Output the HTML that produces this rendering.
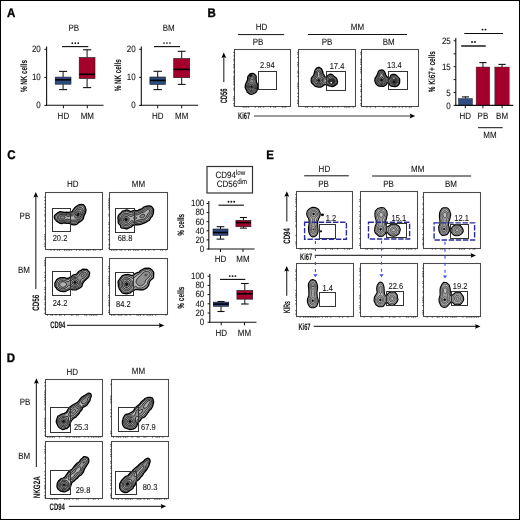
<!DOCTYPE html>
<html><head><meta charset="utf-8"><style>
html,body{margin:0;padding:0;background:#fff;width:520px;height:520px;overflow:hidden}
svg{display:block;will-change:transform}
text{font-family:"Liberation Sans", sans-serif;text-rendering:geometricPrecision}
</style></head><body>
<svg width="520" height="520" viewBox="0 0 520 520">
<rect x="0" y="0" width="520" height="520" fill="#fff"/>
<text transform="translate(7.0,16.7) scale(0.92,1)" font-size="12.5" font-weight="bold" fill="#000" stroke="#000" stroke-width="0.35">A</text>
<text transform="translate(73.80,31.25) scale(1.0,1.15)" font-size="8" text-anchor="middle" fill="#141414" stroke="#141414" stroke-width="0.08">PB</text>
<text transform="translate(168.70,31.25) scale(1.0,1.15)" font-size="8" text-anchor="middle" fill="#141414" stroke="#141414" stroke-width="0.08">BM</text>
<line x1="46.6" y1="46.5" x2="46.6" y2="105.8" stroke="#111" stroke-width="1.1"/>
<line x1="44.4" y1="49.3" x2="46.6" y2="49.3" stroke="#111" stroke-width="1.0"/>
<text transform="translate(40.80,52.15) scale(1.0,1.15)" font-size="8" text-anchor="end" fill="#141414" stroke="#141414" stroke-width="0.08">20</text>
<line x1="44.4" y1="77.4" x2="46.6" y2="77.4" stroke="#111" stroke-width="1.0"/>
<text transform="translate(40.80,80.25) scale(1.0,1.15)" font-size="8" text-anchor="end" fill="#141414" stroke="#141414" stroke-width="0.08">10</text>
<line x1="44.4" y1="105.4" x2="46.6" y2="105.4" stroke="#111" stroke-width="1.0"/>
<text transform="translate(40.80,108.25) scale(1.0,1.15)" font-size="8" text-anchor="end" fill="#141414" stroke="#141414" stroke-width="0.08">0</text>
<line x1="46.1" y1="105.3" x2="103.5" y2="105.3" stroke="#111" stroke-width="1.1"/>
<line x1="63.4" y1="105.3" x2="63.4" y2="108.3" stroke="#111" stroke-width="1.0"/>
<text transform="translate(63.40,119.25) scale(1.0,1.15)" font-size="8" text-anchor="middle" fill="#141414" stroke="#141414" stroke-width="0.08">HD</text>
<line x1="87.3" y1="105.3" x2="87.3" y2="108.3" stroke="#111" stroke-width="1.0"/>
<text transform="translate(87.30,119.25) scale(1.0,1.15)" font-size="8" text-anchor="middle" fill="#141414" stroke="#141414" stroke-width="0.08">MM</text>
<text transform="translate(26.55,76.00) rotate(-90) scale(1.0,1.15)" font-size="8" text-anchor="middle" font-weight="bold" textLength="32" lengthAdjust="spacingAndGlyphs" fill="#141414" stroke="#141414" stroke-width="0.08">% NK cells</text>
<line x1="63.1" y1="71.4" x2="63.1" y2="77.1" stroke="#111" stroke-width="1.0"/>
<line x1="63.1" y1="84.2" x2="63.1" y2="89.6" stroke="#111" stroke-width="1.0"/>
<line x1="59.1" y1="71.4" x2="67.1" y2="71.4" stroke="#111" stroke-width="1.1"/>
<line x1="59.1" y1="89.6" x2="67.1" y2="89.6" stroke="#111" stroke-width="1.1"/>
<rect x="55.20" y="77.1" width="15.80" height="7.10" fill="#2e4b82" stroke="#1a1a1a" stroke-width="0.6"/>
<line x1="55.2" y1="79.8" x2="71.0" y2="79.8" stroke="#000" stroke-width="1.6"/>
<line x1="87.1" y1="49.8" x2="87.1" y2="57.5" stroke="#111" stroke-width="1.0"/>
<line x1="87.1" y1="78.6" x2="87.1" y2="87.6" stroke="#111" stroke-width="1.0"/>
<line x1="83.0" y1="49.8" x2="91.19999999999999" y2="49.8" stroke="#111" stroke-width="1.1"/>
<line x1="83.0" y1="87.6" x2="91.19999999999999" y2="87.6" stroke="#111" stroke-width="1.1"/>
<rect x="79.20" y="57.5" width="15.80" height="21.10" fill="#a4002c" stroke="#1a1a1a" stroke-width="0.6"/>
<line x1="79.19999999999999" y1="74.3" x2="95.0" y2="74.3" stroke="#000" stroke-width="1.6"/>
<line x1="62.0" y1="46.6" x2="88.3" y2="46.6" stroke="#0a0a0a" stroke-width="1.1"/>
<circle cx="72.30" cy="43.20" r="0.85" fill="#111"/>
<circle cx="75.30" cy="43.20" r="0.85" fill="#111"/>
<circle cx="78.30" cy="43.20" r="0.85" fill="#111"/>
<line x1="141.3" y1="46.5" x2="141.3" y2="105.8" stroke="#111" stroke-width="1.1"/>
<line x1="139.10000000000002" y1="49.3" x2="141.3" y2="49.3" stroke="#111" stroke-width="1.0"/>
<text transform="translate(135.70,52.15) scale(1.0,1.15)" font-size="8" text-anchor="end" fill="#141414" stroke="#141414" stroke-width="0.08">20</text>
<line x1="139.10000000000002" y1="77.4" x2="141.3" y2="77.4" stroke="#111" stroke-width="1.0"/>
<text transform="translate(135.70,80.25) scale(1.0,1.15)" font-size="8" text-anchor="end" fill="#141414" stroke="#141414" stroke-width="0.08">10</text>
<line x1="139.10000000000002" y1="105.4" x2="141.3" y2="105.4" stroke="#111" stroke-width="1.0"/>
<text transform="translate(135.70,108.25) scale(1.0,1.15)" font-size="8" text-anchor="end" fill="#141414" stroke="#141414" stroke-width="0.08">0</text>
<line x1="140.8" y1="105.3" x2="198" y2="105.3" stroke="#111" stroke-width="1.1"/>
<line x1="157.7" y1="105.3" x2="157.7" y2="108.3" stroke="#111" stroke-width="1.0"/>
<text transform="translate(157.70,119.25) scale(1.0,1.15)" font-size="8" text-anchor="middle" fill="#141414" stroke="#141414" stroke-width="0.08">HD</text>
<line x1="181.7" y1="105.3" x2="181.7" y2="108.3" stroke="#111" stroke-width="1.0"/>
<text transform="translate(181.70,119.25) scale(1.0,1.15)" font-size="8" text-anchor="middle" fill="#141414" stroke="#141414" stroke-width="0.08">MM</text>
<text transform="translate(121.05,75.30) rotate(-90) scale(1.0,1.15)" font-size="8" text-anchor="middle" font-weight="bold" textLength="32" lengthAdjust="spacingAndGlyphs" fill="#141414" stroke="#141414" stroke-width="0.08">% NK cells</text>
<line x1="157.7" y1="71.3" x2="157.7" y2="77.0" stroke="#111" stroke-width="1.0"/>
<line x1="157.7" y1="84.4" x2="157.7" y2="89.6" stroke="#111" stroke-width="1.0"/>
<line x1="153.45" y1="71.3" x2="161.95" y2="71.3" stroke="#111" stroke-width="1.1"/>
<line x1="153.45" y1="89.6" x2="161.95" y2="89.6" stroke="#111" stroke-width="1.1"/>
<rect x="149.90" y="77.0" width="15.60" height="7.40" fill="#2e4b82" stroke="#1a1a1a" stroke-width="0.6"/>
<line x1="149.89999999999998" y1="80.4" x2="165.5" y2="80.4" stroke="#000" stroke-width="1.6"/>
<line x1="181.7" y1="51.3" x2="181.7" y2="58.5" stroke="#111" stroke-width="1.0"/>
<line x1="181.7" y1="77.7" x2="181.7" y2="84.4" stroke="#111" stroke-width="1.0"/>
<line x1="177.79999999999998" y1="51.3" x2="185.6" y2="51.3" stroke="#111" stroke-width="1.1"/>
<line x1="177.79999999999998" y1="84.4" x2="185.6" y2="84.4" stroke="#111" stroke-width="1.1"/>
<rect x="173.70" y="58.5" width="16.00" height="19.20" fill="#a4002c" stroke="#1a1a1a" stroke-width="0.6"/>
<line x1="173.7" y1="69.4" x2="189.7" y2="69.4" stroke="#000" stroke-width="1.6"/>
<line x1="154.0" y1="46.6" x2="180.0" y2="46.6" stroke="#0a0a0a" stroke-width="1.1"/>
<circle cx="164.00" cy="43.00" r="0.85" fill="#111"/>
<circle cx="167.00" cy="43.00" r="0.85" fill="#111"/>
<circle cx="170.00" cy="43.00" r="0.85" fill="#111"/>
<text transform="translate(207.4,16.8) scale(0.92,1)" font-size="12.5" font-weight="bold" fill="#000" stroke="#000" stroke-width="0.35">B</text>
<text transform="translate(261.50,30.25) scale(1.0,1.15)" font-size="8" text-anchor="middle" fill="#141414" stroke="#141414" stroke-width="0.08">HD</text>
<line x1="238" y1="34.6" x2="284.2" y2="34.6" stroke="#111" stroke-width="1.0"/>
<text transform="translate(258.00,44.95) scale(1.0,1.15)" font-size="8" text-anchor="middle" fill="#141414" stroke="#141414" stroke-width="0.08">PB</text>
<text transform="translate(357.50,30.15) scale(1.0,1.15)" font-size="8" text-anchor="middle" fill="#141414" stroke="#141414" stroke-width="0.08">MM</text>
<line x1="308" y1="34.5" x2="407" y2="34.5" stroke="#111" stroke-width="1.0"/>
<text transform="translate(327.00,45.35) scale(1.0,1.15)" font-size="8" text-anchor="middle" fill="#141414" stroke="#141414" stroke-width="0.08">PB</text>
<text transform="translate(388.70,45.35) scale(1.0,1.15)" font-size="8" text-anchor="middle" fill="#141414" stroke="#141414" stroke-width="0.08">BM</text>
<rect x="234.5" y="49.5" width="56.00" height="57.00" fill="none" stroke="#4a4a4a" stroke-width="1.05"/>
<path d="M233.3,52.5h1.2M233.3,55.9h1.2M233.3,59.3h1.2M233.3,61.0h1.2M233.3,64.4h1.2M233.3,66.1h1.2M233.3,67.8h1.2M233.3,71.2h1.2M233.3,72.9h1.2M233.3,76.3h1.2M233.3,78.0h1.2M233.3,79.7h1.2M233.3,81.4h1.2M233.3,83.1h1.2M233.3,84.8h1.2M233.3,88.2h1.2M233.3,89.9h1.2M233.3,96.7h1.2M233.3,98.4h1.2M233.3,100.1h1.2M233.3,103.5h1.2M233.3,105.2h1.2M243.3,106.5v1.2M245.0,106.5v1.2M246.7,106.5v1.2M248.4,106.5v1.2M255.2,106.5v1.2M258.6,106.5v1.2M260.3,106.5v1.2M263.7,106.5v1.2M270.5,106.5v1.2M273.9,106.5v1.2M275.6,106.5v1.2M282.4,106.5v1.2M284.1,106.5v1.2M285.8,106.5v1.2" stroke="#222" stroke-width="0.8" fill="none"/>
<rect x="298.5" y="49.5" width="57.00" height="57.00" fill="none" stroke="#4a4a4a" stroke-width="1.05"/>
<path d="M297.3,52.5h1.2M297.3,54.2h1.2M297.3,57.6h1.2M297.3,62.7h1.2M297.3,64.4h1.2M297.3,66.1h1.2M297.3,71.2h1.2M297.3,72.9h1.2M297.3,76.3h1.2M297.3,83.1h1.2M297.3,84.8h1.2M297.3,86.5h1.2M297.3,88.2h1.2M297.3,93.3h1.2M297.3,96.7h1.2M297.3,100.1h1.2M297.3,101.8h1.2M297.3,103.5h1.2M305.6,106.5v1.2M307.3,106.5v1.2M312.4,106.5v1.2M319.2,106.5v1.2M322.6,106.5v1.2M324.3,106.5v1.2M326.0,106.5v1.2M327.7,106.5v1.2M329.4,106.5v1.2M332.8,106.5v1.2M337.9,106.5v1.2M344.7,106.5v1.2M346.4,106.5v1.2M348.1,106.5v1.2M349.8,106.5v1.2M353.2,106.5v1.2" stroke="#222" stroke-width="0.8" fill="none"/>
<rect x="361.5" y="49.5" width="57.00" height="57.00" fill="none" stroke="#4a4a4a" stroke-width="1.05"/>
<path d="M360.3,52.5h1.2M360.3,54.2h1.2M360.3,59.3h1.2M360.3,61.0h1.2M360.3,62.7h1.2M360.3,64.4h1.2M360.3,67.8h1.2M360.3,69.5h1.2M360.3,71.2h1.2M360.3,72.9h1.2M360.3,79.7h1.2M360.3,84.8h1.2M360.3,86.5h1.2M360.3,89.9h1.2M360.3,91.6h1.2M360.3,96.7h1.2M360.3,100.1h1.2M360.3,103.5h1.2M360.3,105.2h1.2M366.9,106.5v1.2M370.3,106.5v1.2M375.4,106.5v1.2M383.9,106.5v1.2M389.0,106.5v1.2M392.4,106.5v1.2M394.1,106.5v1.2M395.8,106.5v1.2M399.2,106.5v1.2M402.6,106.5v1.2M406.0,106.5v1.2M409.4,106.5v1.2M411.1,106.5v1.2" stroke="#222" stroke-width="0.8" fill="none"/>
<line x1="223.8" y1="55.5" x2="223.8" y2="82" stroke="#3a3a3a" stroke-width="1.2"/>
<path d="M221.40,58.00 L223.80,52.50 L226.20,58.00 L223.80,57.10 Z" fill="#000"/>
<text transform="translate(226.92,96.00) rotate(-90) scale(1.0,1.25)" font-size="7.5" text-anchor="middle" font-weight="bold" textLength="14.7" lengthAdjust="spacingAndGlyphs" fill="#141414" stroke="#141414" stroke-width="0.08">CD56</text>
<text transform="translate(244.10,118.82) scale(1.0,1.25)" font-size="7.5" text-anchor="middle" font-weight="bold" textLength="12" lengthAdjust="spacingAndGlyphs" fill="#141414" stroke="#141414" stroke-width="0.08">Ki67</text>
<line x1="254" y1="116.0" x2="412.2" y2="116.0" stroke="#3a3a3a" stroke-width="1.2"/>
<path d="M409.70,113.60 L415.20,116.00 L409.70,118.40 L410.60,116.00 Z" fill="#000"/>
<path d="M251.8,94.3 250.1,94.1 247.3,92.3 246.6,90.4 245.4,88.2 245.2,86.8 245.5,84.5 247.6,79.8 247.7,77.5 248.1,76.2 250.1,73.9 250.8,73.6 252.6,73.3 253.9,73.8 255.5,75.2 256.1,76.2 256.2,77.0 256.1,78.8 256.4,82.0 257.4,84.0 257.9,86.5 257.0,90.5 256.3,91.8 255.1,92.8 252.8,94.0Z" fill="#9a9a9a" stroke="#000" stroke-width="1.3" stroke-linejoin="round"/>
<path d="M252.6,92.8 250.6,92.8 248.3,91.5 246.7,88.8 246.2,87.0 246.6,85.0 248.6,80.2 248.7,77.5 249.0,76.5 249.6,75.5 250.3,74.8 251.3,74.4 252.1,74.2 252.8,74.4 253.6,74.8 254.7,75.8 255.2,76.5 255.3,77.5 255.2,81.5 256.5,84.2 256.8,86.2 256.3,89.2 255.3,91.2 254.6,92.0Z" fill="#b8b8b8" stroke="#111" stroke-width="0.75" stroke-linejoin="round"/>
<path d="M252.8,91.6 251.1,91.7 250.1,91.4 249.3,91.0 248.0,89.2 247.4,87.0 247.8,84.8 249.8,81.2 249.6,78.0 249.8,77.0 250.6,75.8 251.8,75.3 252.6,75.4 253.3,75.8 254.3,77.0 254.4,78.5 253.7,81.5 255.4,84.5 255.8,86.2 255.7,88.0 255.1,89.5 254.1,90.8Z" fill="#909090" stroke="#111" stroke-width="0.75" stroke-linejoin="round"/>
<path d="M252.3,79.8 251.8,79.9 251.3,79.6 250.8,78.5 251.0,77.2 251.3,76.8 251.8,76.6 252.6,76.8 253.2,77.8 253.1,78.9ZM252.1,90.5 250.8,90.5 249.6,89.8 248.7,88.5 248.4,87.0 248.6,85.5 249.2,84.2 250.3,83.2 251.6,82.7 252.6,83.0 253.8,84.0 254.5,85.2 254.8,86.5 254.7,88.0 254.1,89.2 253.1,90.1Z" fill="#b0b0b0" stroke="#111" stroke-width="0.75" stroke-linejoin="round"/>
<path d="M252.1,89.3 251.1,89.3 250.3,88.9 249.8,88.2 249.5,87.2 249.5,86.2 249.9,85.2 250.6,84.5 251.3,84.2 252.1,84.3 252.8,84.7 253.3,85.3 253.7,86.2 253.7,87.2 253.4,88.2 252.8,88.9Z" fill="#888888" stroke="#111" stroke-width="0.75" stroke-linejoin="round"/>
<path d="M251.6,88.0 250.8,87.6 250.6,86.8 250.8,85.9 251.6,85.6 252.3,85.9 252.6,86.8 252.3,87.6Z" fill="#111111" stroke="#111" stroke-width="0.75" stroke-linejoin="round"/>
<ellipse cx="250.6" cy="75.6" rx="1.5" ry="1.3" fill="#111"/>
<path d="M320.7,87.2 318.7,87.2 315.2,86.3 312.1,83.3 311.3,82.1 311.2,81.3 311.3,78.3 311.7,77.6 313.7,75.2 315.1,70.1 316.7,68.0 318.2,67.4 319.0,67.4 319.7,67.7 321.0,68.4 321.6,69.1 322.7,71.6 323.1,73.6 324.1,75.1 324.5,76.3 325.0,76.9 325.5,77.1 326.2,77.2 327.0,76.6 328.0,75.3 329.0,74.7 330.5,74.2 331.7,74.4 332.7,75.0 334.1,76.6 335.7,77.6 336.4,78.3 337.0,79.6 337.5,81.6 337.4,82.8 337.0,83.9 333.5,86.4 332.2,86.5 330.5,86.2 328.5,85.6 326.9,84.6 326.0,84.4 324.2,84.9 321.7,86.7Z" fill="#9a9a9a" stroke="#000" stroke-width="1.3" stroke-linejoin="round"/>
<path d="M319.2,86.1 318.2,86.0 316.5,85.6 315.0,84.7 313.0,82.8 312.6,82.1 312.4,80.8 312.3,79.6 312.6,78.6 314.4,76.3 314.9,75.3 315.7,70.8 316.7,69.4 317.7,68.7 318.5,68.5 319.5,68.7 320.3,69.1 321.0,69.8 321.7,71.6 322.0,73.8 322.6,75.3 325.5,79.4 326.0,79.5 327.0,78.7 328.1,76.3 328.6,75.6 329.5,75.1 330.5,74.9 331.2,75.1 332.0,75.6 333.7,77.3 335.4,78.6 336.1,79.6 336.4,81.3 336.0,83.1 335.2,84.1 333.0,85.5 331.2,85.6 329.2,85.0 328.2,84.4 326.2,82.4 325.7,82.2 325.2,82.4 323.7,83.8 321.5,85.6Z" fill="#b8b8b8" stroke="#111" stroke-width="0.75" stroke-linejoin="round"/>
<path d="M319.5,84.9 318.5,85.0 317.5,84.8 315.5,83.8 314.0,82.3 313.6,80.8 313.6,79.8 313.9,78.8 316.1,75.6 316.3,72.6 316.6,71.3 317.5,70.3 318.5,69.9 319.7,70.3 320.5,71.1 320.9,72.3 321.4,75.6 321.9,76.6 323.4,78.3 324.0,80.1 323.8,81.6 322.9,83.1 321.5,84.2ZM332.7,84.4 331.2,84.6 329.7,84.1 328.4,83.1 327.6,81.8 327.6,80.6 328.7,77.1 329.1,76.3 329.7,75.9 330.7,75.9 331.5,76.3 332.9,77.8 334.5,79.1 335.1,80.1 335.3,81.3 335.0,82.7 334.1,83.6Z" fill="#909090" stroke="#111" stroke-width="0.75" stroke-linejoin="round"/>
<path d="M320.0,83.6 318.2,83.8 316.7,83.3 315.5,82.2 314.9,80.8 314.9,79.8 315.3,78.8 317.4,76.1 317.5,75.3 317.3,73.6 317.4,72.6 317.8,71.8 318.5,71.4 319.2,71.6 319.6,72.1 319.9,73.1 319.9,75.8 320.3,76.6 322.2,78.6 322.7,80.1 322.6,81.3 322.0,82.3 321.2,83.1ZM332.0,83.4 331.0,83.4 330.0,83.0 329.3,82.3 328.9,81.6 329.0,80.3 330.2,77.6 330.7,77.6 333.1,79.3 334.0,80.6 334.1,81.6 333.7,82.3 333.0,83.0Z" fill="#b0b0b0" stroke="#111" stroke-width="0.75" stroke-linejoin="round"/>
<path d="M319.2,82.6 318.2,82.6 317.2,82.2 316.5,81.4 316.2,80.6 316.3,79.6 316.8,78.8 317.5,78.2 318.5,77.7 319.5,77.9 320.3,78.3 321.0,79.1 321.4,80.1 321.3,81.1 320.8,81.8 320.1,82.3ZM332.0,81.9 331.2,82.0 330.7,81.6 330.5,80.8 330.9,80.3 331.7,80.3 332.4,80.8 332.4,81.3Z" fill="#888888" stroke="#111" stroke-width="0.75" stroke-linejoin="round"/>
<path d="M319.2,81.4 318.2,81.4 317.6,80.8 317.5,80.1 318.2,79.3 319.2,79.2 320.0,79.8 320.0,80.8Z" fill="#111111" stroke="#111" stroke-width="0.75" stroke-linejoin="round"/>
<ellipse cx="331.6" cy="81.4" rx="3.6" ry="3.0" fill="#2a2a2a"/>
<circle cx="331.2" cy="82.6" r="0.9" fill="#fff"/>
<path d="M395.5,86.5 394.5,86.7 391.2,86.2 390.0,85.3 389.2,83.8 388.0,82.7 387.2,83.0 386.0,84.8 384.0,86.1 383.2,86.3 378.8,86.0 377.8,85.6 376.8,84.8 376.1,84.0 375.0,81.5 374.8,80.5 375.0,78.8 375.3,77.8 376.7,76.0 378.1,72.2 379.0,70.8 379.8,70.3 382.0,70.0 382.8,70.1 383.2,70.4 384.1,71.2 385.2,73.0 385.6,74.8 385.9,75.5 386.8,76.5 387.8,77.2 388.8,78.5 389.2,78.3 389.8,77.7 390.8,75.4 391.8,74.7 393.0,74.3 394.5,74.4 395.8,74.8 396.5,75.4 399.5,78.8 399.7,79.8 399.6,82.5 399.4,83.5 397.8,85.6 397.0,86.1Z" fill="#9a9a9a" stroke="#000" stroke-width="1.3" stroke-linejoin="round"/>
<path d="M382.2,85.5 379.5,85.2 377.8,84.0 376.5,82.2 375.9,80.0 376.2,78.2 377.6,76.0 379.1,72.2 380.0,71.3 381.8,70.9 382.8,71.1 383.8,72.2 384.3,73.2 385.1,75.5 387.1,78.2 387.5,80.0 386.9,81.8 385.5,84.0 384.2,84.9ZM395.8,85.5 393.8,85.7 392.2,85.4 391.5,85.1 390.4,83.8 389.2,81.2 389.2,80.2 390.5,78.0 391.2,76.2 391.8,75.5 392.8,75.0 394.2,75.0 395.5,75.6 398.2,78.8 398.6,79.5 398.8,81.5 398.5,83.0 397.2,84.8Z" fill="#b8b8b8" stroke="#111" stroke-width="0.75" stroke-linejoin="round"/>
<path d="M382.0,84.5 380.2,84.4 378.5,83.4 377.5,82.0 377.0,80.0 377.3,78.5 378.5,76.2 379.6,73.2 380.4,72.2 381.5,71.9 382.5,72.1 383.3,73.0 384.2,75.8 385.9,78.5 386.2,80.0 385.9,81.8 384.9,83.2 383.8,84.0ZM395.0,84.8 393.5,84.8 392.2,84.3 391.2,83.2 390.5,81.8 390.6,80.2 391.8,77.0 392.2,76.2 393.2,75.7 394.2,75.8 395.2,76.5 397.3,79.2 397.8,80.5 397.8,81.8 397.4,83.0 396.2,84.2Z" fill="#909090" stroke="#111" stroke-width="0.75" stroke-linejoin="round"/>
<path d="M382.8,83.3 381.2,83.5 379.8,83.0 378.7,82.0 378.2,80.5 378.3,79.0 379.6,76.5 380.3,74.2 380.8,73.6 381.5,73.2 382.0,73.4 382.6,74.0 383.4,76.2 384.6,78.5 385.0,79.8 385.0,81.0 384.5,82.0 383.8,82.8ZM394.2,83.8 393.2,83.6 392.5,83.1 392.0,82.5 391.6,81.5 391.8,80.2 392.6,77.8 393.0,77.2 393.5,76.9 394.4,77.2 395.8,79.0 396.5,80.0 396.8,81.0 396.6,82.0 396.0,83.0 395.2,83.5Z" fill="#b0b0b0" stroke="#111" stroke-width="0.75" stroke-linejoin="round"/>
<path d="M382.2,82.3 381.2,82.3 380.3,82.0 379.6,81.2 379.3,80.5 379.4,79.5 379.8,78.6 380.8,77.2 381.5,76.7 382.0,76.9 383.0,78.0 383.7,79.0 383.9,79.8 383.9,80.5 383.6,81.2 383.0,81.9ZM394.8,82.3 393.8,82.3 393.0,81.5 393.1,80.5 393.8,79.7 394.5,79.8 395.2,80.5 395.4,81.5Z" fill="#888888" stroke="#111" stroke-width="0.75" stroke-linejoin="round"/>
<path d="M382.2,81.0 381.2,81.2 380.5,80.5 380.6,79.5 381.2,78.8 382.0,78.8 382.6,79.5 382.7,80.2Z" fill="#111111" stroke="#111" stroke-width="0.75" stroke-linejoin="round"/>
<ellipse cx="394.6" cy="81.6" rx="3.2" ry="2.8" fill="#3a3a3a"/>
<ellipse cx="394.2" cy="82" rx="1.5" ry="1.2" fill="#111"/>
<rect x="258.5" y="71.5" width="18.00" height="18.00" fill="none" stroke="#333" stroke-width="1.0"/>
<rect x="326.5" y="71.5" width="19.00" height="19.00" fill="none" stroke="#333" stroke-width="1.0"/>
<rect x="388.5" y="71.5" width="19.00" height="18.00" fill="none" stroke="#333" stroke-width="1.0"/>
<text transform="translate(267.30,68.44) scale(1.0,1.15)" font-size="7.5" text-anchor="middle" fill="#141414" stroke="#141414" stroke-width="0.08">2.94</text>
<text transform="translate(337.00,68.74) scale(1.0,1.15)" font-size="7.5" text-anchor="middle" fill="#141414" stroke="#141414" stroke-width="0.08">17.4</text>
<text transform="translate(394.30,68.14) scale(1.0,1.15)" font-size="7.5" text-anchor="middle" fill="#141414" stroke="#141414" stroke-width="0.08">13.4</text>
<line x1="455.8" y1="38" x2="455.8" y2="105.9" stroke="#111" stroke-width="1.1"/>
<line x1="453.6" y1="40.8" x2="455.8" y2="40.8" stroke="#111" stroke-width="1.0"/>
<text transform="translate(450.80,44.15) scale(1.0,1.15)" font-size="8" text-anchor="end" fill="#141414" stroke="#141414" stroke-width="0.08">25</text>
<line x1="453.6" y1="66.7" x2="455.8" y2="66.7" stroke="#111" stroke-width="1.0"/>
<text transform="translate(450.80,70.05) scale(1.0,1.15)" font-size="8" text-anchor="end" fill="#141414" stroke="#141414" stroke-width="0.08">15</text>
<line x1="453.6" y1="92.6" x2="455.8" y2="92.6" stroke="#111" stroke-width="1.0"/>
<text transform="translate(450.80,95.95) scale(1.0,1.15)" font-size="8" text-anchor="end" fill="#141414" stroke="#141414" stroke-width="0.08">5</text>
<line x1="453.6" y1="105.4" x2="455.8" y2="105.4" stroke="#111" stroke-width="1.0"/>
<text transform="translate(450.80,108.75) scale(1.0,1.15)" font-size="8" text-anchor="end" fill="#141414" stroke="#141414" stroke-width="0.08">0</text>
<line x1="453.6" y1="53.8" x2="455.8" y2="53.8" stroke="#111" stroke-width="1.0"/>
<line x1="453.6" y1="79.6" x2="455.8" y2="79.6" stroke="#111" stroke-width="1.0"/>
<text transform="translate(435.05,71.70) rotate(-90) scale(1.0,1.15)" font-size="8" text-anchor="middle" font-weight="bold" textLength="41" lengthAdjust="spacingAndGlyphs" fill="#141414" stroke="#141414" stroke-width="0.08">% Ki67+ cells</text>
<line x1="465.45000000000005" y1="98.4" x2="465.45000000000005" y2="96.9" stroke="#111" stroke-width="1.0"/>
<line x1="461.85" y1="96.9" x2="469.05000000000007" y2="96.9" stroke="#111" stroke-width="1.1"/>
<rect x="458.3" y="98.4" width="14.30" height="7.00" fill="#2e4b82" stroke="#333" stroke-width="0.4"/>
<line x1="482.95000000000005" y1="67.0" x2="482.95000000000005" y2="62.6" stroke="#111" stroke-width="1.0"/>
<line x1="479.35" y1="62.6" x2="486.55000000000007" y2="62.6" stroke="#111" stroke-width="1.1"/>
<rect x="476.1" y="67.0" width="13.70" height="38.40" fill="#a4002c" stroke="#333" stroke-width="0.4"/>
<line x1="502.05" y1="67.0" x2="502.05" y2="64.4" stroke="#111" stroke-width="1.0"/>
<line x1="498.45" y1="64.4" x2="505.65000000000003" y2="64.4" stroke="#111" stroke-width="1.1"/>
<rect x="494.8" y="67.0" width="14.50" height="38.40" fill="#a4002c" stroke="#333" stroke-width="0.4"/>
<line x1="455.3" y1="105.4" x2="513.3" y2="105.4" stroke="#111" stroke-width="1.1"/>
<line x1="465.3" y1="105.4" x2="465.3" y2="108.3" stroke="#111" stroke-width="1.0"/>
<text transform="translate(465.30,119.35) scale(1.0,1.15)" font-size="8" text-anchor="middle" fill="#141414" stroke="#141414" stroke-width="0.08">HD</text>
<line x1="482.9" y1="105.4" x2="482.9" y2="108.3" stroke="#111" stroke-width="1.0"/>
<text transform="translate(482.90,119.35) scale(1.0,1.15)" font-size="8" text-anchor="middle" fill="#141414" stroke="#141414" stroke-width="0.08">PB</text>
<line x1="502.1" y1="105.4" x2="502.1" y2="108.3" stroke="#111" stroke-width="1.0"/>
<text transform="translate(502.10,119.35) scale(1.0,1.15)" font-size="8" text-anchor="middle" fill="#141414" stroke="#141414" stroke-width="0.08">BM</text>
<line x1="478" y1="127.7" x2="502.7" y2="127.7" stroke="#111" stroke-width="1.0"/>
<text transform="translate(490.00,138.15) scale(1.0,1.15)" font-size="8" text-anchor="middle" fill="#141414" stroke="#141414" stroke-width="0.08">MM</text>
<line x1="461.2" y1="46.0" x2="485.7" y2="46.0" stroke="#0a0a0a" stroke-width="1.4"/>
<circle cx="472.05" cy="42.00" r="0.95" fill="#111"/>
<circle cx="474.95" cy="42.00" r="0.95" fill="#111"/>
<line x1="464.3" y1="33.5" x2="503.0" y2="33.5" stroke="#0a0a0a" stroke-width="1.1"/>
<circle cx="482.55" cy="29.60" r="0.95" fill="#111"/>
<circle cx="485.45" cy="29.60" r="0.95" fill="#111"/>
<text transform="translate(7.2,158.6) scale(0.92,1)" font-size="12.5" font-weight="bold" fill="#000" stroke="#000" stroke-width="0.35">C</text>
<text transform="translate(72.70,187.45) scale(1.0,1.15)" font-size="8" text-anchor="middle" fill="#141414" stroke="#141414" stroke-width="0.08">HD</text>
<text transform="translate(138.50,187.35) scale(1.0,1.15)" font-size="8" text-anchor="middle" fill="#141414" stroke="#141414" stroke-width="0.08">MM</text>
<text transform="translate(24.90,218.55) scale(1.0,1.15)" font-size="8" text-anchor="middle" fill="#141414" stroke="#141414" stroke-width="0.08">PB</text>
<text transform="translate(23.90,272.85) scale(1.0,1.15)" font-size="8" text-anchor="middle" fill="#141414" stroke="#141414" stroke-width="0.08">BM</text>
<rect x="45.5" y="192.5" width="57.00" height="57.00" fill="none" stroke="#4a4a4a" stroke-width="1.05"/>
<path d="M44.3,197.2h1.2M44.3,200.6h1.2M44.3,204.0h1.2M44.3,207.4h1.2M44.3,210.8h1.2M44.3,214.2h1.2M44.3,215.9h1.2M44.3,221.0h1.2M44.3,226.1h1.2M44.3,234.6h1.2M44.3,236.3h1.2M44.3,238.0h1.2M44.3,239.7h1.2M44.3,243.1h1.2M44.3,244.8h1.2M44.3,246.5h1.2M50.9,249.5v1.2M54.3,249.5v1.2M57.7,249.5v1.2M59.4,249.5v1.2M64.5,249.5v1.2M66.2,249.5v1.2M67.9,249.5v1.2M69.6,249.5v1.2M71.3,249.5v1.2M76.4,249.5v1.2M79.8,249.5v1.2M83.2,249.5v1.2M86.6,249.5v1.2M88.3,249.5v1.2M90.0,249.5v1.2M93.4,249.5v1.2M95.1,249.5v1.2M100.2,249.5v1.2" stroke="#222" stroke-width="0.8" fill="none"/>
<rect x="109.5" y="192.5" width="58.00" height="57.00" fill="none" stroke="#4a4a4a" stroke-width="1.05"/>
<path d="M108.3,198.9h1.2M108.3,200.6h1.2M108.3,202.3h1.2M108.3,204.0h1.2M108.3,205.7h1.2M108.3,207.4h1.2M108.3,209.1h1.2M108.3,214.2h1.2M108.3,215.9h1.2M108.3,222.7h1.2M108.3,224.4h1.2M108.3,227.8h1.2M108.3,231.2h1.2M108.3,234.6h1.2M108.3,239.7h1.2M108.3,244.8h1.2M108.3,248.2h1.2M111.5,249.5v1.2M113.2,249.5v1.2M114.9,249.5v1.2M116.6,249.5v1.2M120.0,249.5v1.2M121.7,249.5v1.2M125.1,249.5v1.2M128.5,249.5v1.2M130.2,249.5v1.2M133.6,249.5v1.2M135.3,249.5v1.2M137.0,249.5v1.2M138.7,249.5v1.2M142.1,249.5v1.2M145.5,249.5v1.2M148.9,249.5v1.2M154.0,249.5v1.2M160.8,249.5v1.2M162.5,249.5v1.2M165.9,249.5v1.2" stroke="#222" stroke-width="0.8" fill="none"/>
<rect x="45.5" y="257.5" width="57.00" height="57.00" fill="none" stroke="#4a4a4a" stroke-width="1.05"/>
<path d="M44.3,260.5h1.2M44.3,262.2h1.2M44.3,263.9h1.2M44.3,265.6h1.2M44.3,272.4h1.2M44.3,275.8h1.2M44.3,277.5h1.2M44.3,280.9h1.2M44.3,287.7h1.2M44.3,289.4h1.2M44.3,292.8h1.2M44.3,296.2h1.2M44.3,297.9h1.2M44.3,299.6h1.2M44.3,303.0h1.2M44.3,304.7h1.2M44.3,308.1h1.2M44.3,309.8h1.2M44.3,313.2h1.2M47.5,314.5v1.2M50.9,314.5v1.2M52.6,314.5v1.2M56.0,314.5v1.2M59.4,314.5v1.2M61.1,314.5v1.2M64.5,314.5v1.2M71.3,314.5v1.2M73.0,314.5v1.2M76.4,314.5v1.2M78.1,314.5v1.2M84.9,314.5v1.2M86.6,314.5v1.2M90.0,314.5v1.2M91.7,314.5v1.2M93.4,314.5v1.2M95.1,314.5v1.2M96.8,314.5v1.2" stroke="#222" stroke-width="0.8" fill="none"/>
<rect x="109.5" y="258.5" width="58.00" height="56.00" fill="none" stroke="#4a4a4a" stroke-width="1.05"/>
<path d="M108.3,266.6h1.2M108.3,268.3h1.2M108.3,271.7h1.2M108.3,276.8h1.2M108.3,278.5h1.2M108.3,280.2h1.2M108.3,281.9h1.2M108.3,283.6h1.2M108.3,285.3h1.2M108.3,295.5h1.2M108.3,297.2h1.2M108.3,300.6h1.2M108.3,302.3h1.2M108.3,304.0h1.2M108.3,305.7h1.2M108.3,310.8h1.2M108.3,312.5h1.2M111.5,314.5v1.2M113.2,314.5v1.2M114.9,314.5v1.2M118.3,314.5v1.2M120.0,314.5v1.2M121.7,314.5v1.2M125.1,314.5v1.2M126.8,314.5v1.2M130.2,314.5v1.2M137.0,314.5v1.2M138.7,314.5v1.2M140.4,314.5v1.2M143.8,314.5v1.2M147.2,314.5v1.2M148.9,314.5v1.2M150.6,314.5v1.2M152.3,314.5v1.2M155.7,314.5v1.2M165.9,314.5v1.2" stroke="#222" stroke-width="0.8" fill="none"/>
<line x1="35.8" y1="195.0" x2="35.8" y2="289" stroke="#3a3a3a" stroke-width="1.2"/>
<path d="M33.40,197.50 L35.80,192.00 L38.20,197.50 L35.80,196.60 Z" fill="#000"/>
<text transform="translate(38.82,302.70) rotate(-90) scale(1.0,1.25)" font-size="7.5" text-anchor="middle" font-weight="bold" textLength="16" lengthAdjust="spacingAndGlyphs" fill="#141414" stroke="#141414" stroke-width="0.08">CD56</text>
<text transform="translate(57.80,328.42) scale(1.0,1.25)" font-size="7.5" text-anchor="middle" font-weight="bold" textLength="15" lengthAdjust="spacingAndGlyphs" fill="#141414" stroke="#141414" stroke-width="0.08">CD94</text>
<line x1="67" y1="325.4" x2="161.3" y2="325.4" stroke="#3a3a3a" stroke-width="1.2"/>
<path d="M158.80,323.00 L164.30,325.40 L158.80,327.80 L159.70,325.40 Z" fill="#000"/>
<path d="M75.1,224.9 74.3,224.9 71.8,224.5 70.1,223.6 69.3,223.4 67.8,223.4 64.8,223.0 63.6,223.0 61.6,223.6 59.4,223.0 56.9,221.4 54.8,219.1 54.3,217.6 54.5,215.8 55.0,215.1 55.9,214.3 58.1,212.6 60.1,211.6 64.8,212.3 66.3,212.1 68.6,212.3 71.6,211.8 72.3,211.2 74.9,207.6 78.1,205.2 81.1,204.3 83.1,204.6 83.6,204.9 85.0,206.6 86.0,209.8 85.5,212.8 83.9,216.1 83.4,218.3 82.8,219.3 82.1,220.2 78.6,222.6 77.3,224.0Z" fill="#9a9a9a" stroke="#000" stroke-width="1.3" stroke-linejoin="round"/>
<path d="M75.3,223.1 72.6,223.3 69.8,222.5 66.3,221.9 61.9,222.3 59.9,222.0 57.9,220.8 56.8,219.8 55.7,218.1 55.8,216.6 56.4,215.6 57.3,214.6 58.9,213.5 60.4,212.9 63.1,212.9 67.6,213.5 71.8,213.0 72.7,212.3 74.0,210.6 75.8,208.5 78.6,206.3 80.6,205.9 82.3,206.0 83.1,206.6 83.8,207.6 84.5,209.1 84.7,210.1 84.4,212.3 82.7,217.3 81.7,218.8 79.8,220.7 77.1,222.4Z" fill="#b8b8b8" stroke="#111" stroke-width="0.75" stroke-linejoin="round"/>
<path d="M74.3,221.9 71.8,221.8 67.1,220.8 62.9,221.3 60.4,221.0 58.9,220.3 57.9,219.3 57.3,217.8 57.4,216.6 58.0,215.6 58.7,214.8 59.9,214.2 61.1,213.8 63.6,213.8 67.6,214.8 70.6,214.6 72.1,214.2 73.3,213.3 76.1,209.8 78.3,208.1 79.8,207.5 81.6,207.7 82.3,208.3 82.8,208.9 83.3,211.1 82.9,213.8 81.8,216.6 80.4,218.6 78.8,220.1 76.3,221.5Z" fill="#909090" stroke="#111" stroke-width="0.75" stroke-linejoin="round"/>
<path d="M75.3,220.1 70.8,220.1 67.3,219.1 63.9,220.2 61.6,220.2 60.3,219.8 59.3,219.1 58.7,218.1 58.7,217.1 59.1,216.1 59.9,215.4 60.9,214.9 62.1,214.7 64.1,214.9 67.1,216.2 67.8,216.4 72.6,215.7 73.6,215.0 75.8,211.8 77.3,210.3 78.3,209.6 79.3,209.3 80.1,209.2 80.8,209.4 81.7,210.3 82.1,211.8 81.8,213.8 81.0,215.8 79.8,217.6 78.3,219.0 76.8,219.8Z" fill="#b0b0b0" stroke="#111" stroke-width="0.75" stroke-linejoin="round"/>
<path d="M77.1,218.1 75.8,218.2 74.9,217.6 74.7,216.8 75.1,215.3 76.1,213.3 77.3,211.8 78.6,211.1 79.8,211.1 80.4,211.6 80.7,212.3 80.7,213.3 80.4,214.6 79.7,215.8 79.0,216.8 78.1,217.6ZM63.4,219.1 61.9,219.1 60.7,218.6 60.2,217.6 60.5,216.6 61.4,216.0 62.6,215.8 63.9,216.1 64.7,216.6 65.1,217.3 65.0,218.1 64.3,218.7Z" fill="#888888" stroke="#111" stroke-width="0.75" stroke-linejoin="round"/>
<path d="M77.8,216.1 77.3,216.3 76.8,216.1 76.6,215.6 76.7,214.8 77.6,213.3 78.3,212.8 78.8,212.8 79.3,213.3 79.2,214.3 78.6,215.5Z" fill="#111111" stroke="#111" stroke-width="0.75" stroke-linejoin="round"/>
<path d="M126.9,228.9 125.9,228.9 123.7,228.2 122.2,228.1 121.4,227.8 120.8,227.2 120.4,225.4 118.8,223.9 118.3,222.9 118.2,219.9 117.9,218.2 118.1,216.2 119.4,214.2 120.9,213.1 122.2,211.4 122.9,211.0 124.7,210.7 126.7,209.9 127.7,210.1 129.7,211.1 130.7,211.3 131.9,211.2 134.2,210.4 135.2,210.5 136.7,210.9 138.1,210.4 139.9,209.4 141.9,208.8 143.9,207.0 146.7,206.1 148.4,205.8 150.2,206.0 151.2,206.3 151.9,206.9 153.6,209.4 153.4,213.2 152.2,216.2 150.6,217.9 150.0,219.4 149.4,220.2 145.2,222.7 141.4,224.1 138.2,224.8 135.7,224.7 133.0,225.4 132.2,225.9 131.2,227.0Z" fill="#9a9a9a" stroke="#000" stroke-width="1.3" stroke-linejoin="round"/>
<path d="M126.9,227.5 125.9,227.5 124.7,227.3 122.7,226.4 120.7,224.2 119.6,222.2 119.3,217.7 119.5,216.4 120.3,215.2 122.7,212.7 124.2,212.0 126.4,211.4 130.7,212.6 131.7,212.6 134.4,211.9 136.9,211.9 142.9,209.4 145.4,207.5 147.2,207.0 149.2,207.0 150.4,207.2 151.2,207.8 152.1,208.9 152.7,210.2 152.4,211.9 150.8,215.4 149.4,217.2 148.4,219.2 147.9,219.6 144.2,221.8 142.4,222.6 139.9,223.0 138.2,223.5 135.9,223.7 131.9,224.5 129.9,226.0 127.9,227.1Z" fill="#b8b8b8" stroke="#111" stroke-width="0.75" stroke-linejoin="round"/>
<path d="M126.2,225.9 124.4,225.6 122.7,224.7 121.4,223.2 120.8,221.4 120.5,219.2 120.8,217.2 121.9,215.4 123.4,213.9 124.9,213.3 126.4,213.2 130.2,214.3 131.2,214.4 134.4,213.5 137.4,213.2 143.4,210.6 146.2,208.5 147.4,208.1 148.7,208.1 149.7,208.3 150.9,209.4 151.3,210.2 151.4,210.9 150.9,212.5 147.6,217.4 146.5,218.7 145.4,219.5 143.7,220.6 142.2,221.2 139.7,221.5 135.9,222.5 131.9,222.9 130.9,223.4 128.4,225.2 127.2,225.8Z" fill="#909090" stroke="#111" stroke-width="0.75" stroke-linejoin="round"/>
<path d="M126.9,224.2 125.4,224.3 123.9,223.7 122.8,222.7 122.1,221.2 121.8,219.4 122.2,217.7 123.0,216.2 124.2,215.2 125.4,214.8 126.9,214.8 128.2,215.2 130.2,216.5 131.2,216.6 134.2,215.0 137.4,214.9 138.4,214.6 141.4,212.9 144.7,211.7 147.4,209.6 148.7,209.6 149.5,210.2 149.7,211.2 149.4,212.1 147.8,213.9 146.0,217.2 144.2,218.8 142.4,219.5 138.9,220.0 135.4,221.1 134.2,221.2 131.4,220.7 130.7,221.2 128.5,223.4Z" fill="#b0b0b0" stroke="#111" stroke-width="0.75" stroke-linejoin="round"/>
<path d="M142.4,217.7 141.4,217.8 140.4,217.6 139.8,217.2 139.9,216.4 140.6,215.4 141.9,214.5 143.2,214.2 144.2,214.3 144.7,214.9 144.5,216.2 143.6,217.2ZM126.4,222.7 125.4,222.6 124.4,222.1 123.6,221.2 123.2,219.9 123.3,218.7 123.9,217.4 124.9,216.6 125.9,216.3 127.2,216.5 128.1,217.2 128.8,218.2 129.1,219.2 129.0,220.2 128.4,221.4 127.4,222.3ZM135.4,219.2 134.4,219.2 133.7,218.5 133.7,217.7 134.4,217.0 135.2,216.8 135.8,216.9 136.3,217.2 136.7,217.7 136.7,218.2 136.4,218.6Z" fill="#888888" stroke="#111" stroke-width="0.75" stroke-linejoin="round"/>
<path d="M126.4,221.0 125.7,221.0 125.2,220.7 124.7,219.7 124.9,218.6 125.3,218.2 125.9,217.9 126.9,218.3 127.4,219.2 127.2,220.4Z" fill="#111111" stroke="#111" stroke-width="0.75" stroke-linejoin="round"/>
<path d="M65.2,291.5 64.0,291.6 61.2,291.4 60.2,291.1 57.2,289.4 56.2,287.7 55.2,286.7 54.9,285.7 54.9,282.9 56.4,280.2 57.0,279.4 59.8,277.8 60.8,277.6 64.8,277.7 67.2,278.5 68.4,278.2 71.6,276.2 72.9,275.2 76.5,274.2 78.8,271.5 79.5,271.0 81.0,270.4 82.2,269.4 82.8,269.2 86.5,269.4 87.5,270.1 89.4,272.2 89.6,272.7 89.6,273.7 88.9,276.4 88.2,277.4 84.4,280.9 82.8,283.4 82.3,284.4 82.1,285.9 81.5,286.7 79.8,288.0 76.5,289.8 72.5,289.8 70.2,289.2Z" fill="#9a9a9a" stroke="#000" stroke-width="1.3" stroke-linejoin="round"/>
<path d="M63.8,290.2 61.2,290.0 58.5,288.5 57.8,287.9 56.4,285.9 56.2,284.9 56.5,283.7 57.4,281.7 58.5,280.4 60.5,279.3 63.2,278.7 64.8,278.8 66.8,279.7 67.8,279.7 69.8,278.7 72.0,277.2 76.5,275.6 77.8,274.6 79.5,272.6 81.5,271.4 83.0,270.8 84.2,270.5 85.5,270.6 86.5,271.1 87.2,271.7 87.7,272.7 87.9,273.7 88.0,275.2 87.7,276.2 85.5,278.5 83.2,280.2 81.8,282.6 80.6,285.7 79.5,286.9 77.0,288.4 75.2,288.8 73.5,288.7 70.8,287.7 69.8,287.7 68.5,288.2 66.8,289.4Z" fill="#b8b8b8" stroke="#111" stroke-width="0.75" stroke-linejoin="round"/>
<path d="M64.0,288.8 62.2,288.8 60.8,288.3 59.2,287.4 58.4,286.2 58.0,284.9 58.2,283.4 58.8,282.2 60.0,281.1 61.5,280.4 63.2,280.1 64.8,280.4 67.5,281.6 68.2,281.7 69.0,281.2 71.2,278.9 72.2,278.2 74.0,277.6 76.8,277.2 77.8,276.8 78.5,276.1 80.2,273.7 82.0,272.3 83.0,272.0 84.2,272.0 85.2,272.3 86.0,272.9 86.5,274.4 86.1,275.9 84.8,277.5 81.5,279.2 81.0,279.7 79.9,284.4 79.4,285.4 78.5,286.3 76.5,287.3 74.5,287.6 73.2,287.3 70.0,285.7 69.0,285.5 68.5,285.8 66.0,287.9Z" fill="#909090" stroke="#111" stroke-width="0.75" stroke-linejoin="round"/>
<path d="M82.8,276.5 81.6,276.4 81.2,276.0 81.3,275.4 81.7,274.7 82.2,274.2 83.5,273.9 84.2,274.4 84.2,275.2 83.7,275.9ZM75.8,286.2 74.0,286.2 72.5,285.6 71.2,284.4 70.7,283.2 70.8,281.7 71.7,280.2 73.0,279.2 74.8,278.6 76.5,278.7 77.9,279.2 78.6,279.9 79.1,281.4 79.1,282.9 78.5,284.4 77.2,285.6ZM63.8,287.2 62.5,287.3 61.5,287.0 60.5,286.3 59.9,285.4 59.7,284.4 60.0,283.4 60.8,282.5 61.8,281.9 63.0,281.7 64.5,282.0 65.7,282.7 66.4,283.7 66.5,284.7 66.0,285.8 65.0,286.7Z" fill="#b0b0b0" stroke="#111" stroke-width="0.75" stroke-linejoin="round"/>
<path d="M75.5,285.0 74.5,285.0 73.5,284.6 72.7,283.9 72.2,282.9 72.3,281.9 72.8,281.0 73.5,280.4 74.5,280.0 75.8,280.0 76.8,280.4 77.3,280.9 77.7,281.9 77.7,282.9 77.2,283.9 76.5,284.6Z" fill="#888888" stroke="#111" stroke-width="0.75" stroke-linejoin="round"/>
<path d="M75.2,283.7 74.2,283.5 73.7,282.7 74.0,281.7 74.8,281.3 75.8,281.4 76.3,282.2 76.1,283.2Z" fill="#111111" stroke="#111" stroke-width="0.75" stroke-linejoin="round"/>
<path d="M126.8,293.8 126.3,293.8 123.0,293.2 122.0,292.6 119.3,288.9 118.4,286.2 118.1,281.9 118.2,281.2 122.1,275.9 124.5,274.8 128.1,274.3 128.8,274.5 130.8,275.4 132.6,275.5 134.4,274.2 137.4,272.7 139.1,272.1 140.3,270.8 144.1,268.5 148.8,268.2 150.1,268.6 151.7,269.7 152.6,271.0 153.5,271.9 153.7,272.4 153.6,277.2 153.0,278.2 151.1,279.7 149.6,281.7 148.6,285.4 146.8,287.8 145.1,288.9 142.8,289.8 141.3,289.7 139.8,289.9 137.6,289.3 135.1,289.7 131.6,291.7 130.1,293.1 127.8,293.3Z" fill="#9a9a9a" stroke="#000" stroke-width="1.3" stroke-linejoin="round"/>
<path d="M126.3,292.5 124.0,292.0 122.5,291.0 120.9,289.2 119.6,285.7 119.5,283.2 119.9,281.4 121.1,279.2 123.5,276.7 124.5,276.1 125.3,275.9 128.1,276.0 130.8,277.3 132.3,278.4 133.1,278.5 137.5,274.9 139.8,273.5 142.6,270.9 143.8,270.3 146.8,269.6 148.1,269.7 150.1,270.7 151.4,271.9 151.9,272.7 152.1,273.7 151.8,275.9 151.3,276.9 149.5,278.7 147.8,281.4 147.2,284.2 146.8,285.0 145.3,285.7 143.1,287.5 141.3,288.1 138.3,288.0 137.3,287.5 135.8,286.4 135.1,286.3 134.6,286.7 133.5,288.2 131.8,289.9 129.6,291.7 128.6,292.1Z" fill="#b8b8b8" stroke="#111" stroke-width="0.75" stroke-linejoin="round"/>
<path d="M141.6,285.7 140.6,285.9 139.2,285.7 138.3,285.3 137.4,284.4 136.4,283.2 136.0,282.2 136.1,281.2 136.5,279.9 137.8,277.9 140.6,275.5 142.4,273.2 144.1,272.0 144.8,271.6 145.8,271.4 147.6,271.4 148.6,271.8 149.6,272.4 150.1,273.2 150.3,274.4 149.9,275.7 149.1,276.9 146.2,279.4 145.4,280.9 144.9,282.7 144.4,283.4 143.1,284.8ZM127.8,290.8 126.5,290.9 125.3,290.8 124.3,290.4 123.3,289.8 122.1,288.4 121.0,285.4 121.1,282.4 121.9,280.4 123.5,278.6 124.5,277.9 125.5,277.6 127.5,277.6 129.8,278.6 131.9,280.7 132.7,281.9 132.9,282.7 132.7,284.7 132.0,286.9 131.5,287.9 130.1,289.5Z" fill="#909090" stroke="#111" stroke-width="0.75" stroke-linejoin="round"/>
<path d="M146.1,275.8 145.1,275.7 144.9,275.4 144.9,274.9 145.6,274.2 146.6,274.1 146.9,274.4 147.0,274.9 146.6,275.4ZM127.0,289.2 125.3,289.0 124.0,288.2 122.9,286.7 122.3,284.7 122.5,282.7 123.3,280.9 124.6,279.7 126.3,279.1 128.1,279.4 129.6,280.4 130.6,281.9 131.1,283.7 130.8,285.7 129.9,287.4 128.6,288.7Z" fill="#b0b0b0" stroke="#111" stroke-width="0.75" stroke-linejoin="round"/>
<path d="M127.3,287.5 126.0,287.5 125.0,287.0 124.1,285.9 123.8,284.7 123.8,283.4 124.3,282.2 125.3,281.2 126.3,280.8 127.3,280.9 128.3,281.4 129.1,282.4 129.5,283.7 129.5,284.9 129.1,286.0 128.3,286.9Z" fill="#888888" stroke="#111" stroke-width="0.75" stroke-linejoin="round"/>
<path d="M127.0,285.8 126.0,285.7 125.5,285.3 125.3,284.7 125.4,283.4 125.8,282.9 126.3,282.6 127.3,282.8 128.0,283.7 127.9,284.9Z" fill="#111111" stroke="#111" stroke-width="0.75" stroke-linejoin="round"/>
<rect x="52.5" y="208.5" width="18.00" height="23.00" fill="none" stroke="#333" stroke-width="1.0"/>
<rect x="115.5" y="208.5" width="19.00" height="24.00" fill="none" stroke="#333" stroke-width="1.0"/>
<rect x="52.5" y="271.5" width="18.00" height="24.00" fill="none" stroke="#333" stroke-width="1.0"/>
<rect x="115.5" y="272.5" width="18.00" height="23.00" fill="none" stroke="#333" stroke-width="1.0"/>
<text transform="translate(60.00,241.14) scale(1.0,1.15)" font-size="7.5" text-anchor="middle" fill="#141414" stroke="#141414" stroke-width="0.08">20.2</text>
<text transform="translate(125.00,241.14) scale(1.0,1.15)" font-size="7.5" text-anchor="middle" fill="#141414" stroke="#141414" stroke-width="0.08">68.8</text>
<text transform="translate(60.00,306.34) scale(1.0,1.15)" font-size="7.5" text-anchor="middle" fill="#141414" stroke="#141414" stroke-width="0.08">24.2</text>
<text transform="translate(123.30,307.24) scale(1.0,1.15)" font-size="7.5" text-anchor="middle" fill="#141414" stroke="#141414" stroke-width="0.08">84.2</text>
<rect x="207.0" y="166.5" width="45.50" height="26.50" fill="none" stroke="#333" stroke-width="1.2"/>
<text transform="translate(230.3,177.6) scale(1,1.15)" font-size="8" text-anchor="middle" fill="#141414" stroke="#141414" stroke-width="0.08">CD94<tspan font-size="6.2" dy="-2.6">low</tspan></text>
<text transform="translate(231.9,187.1) scale(1,1.15)" font-size="8" text-anchor="middle" fill="#141414" stroke="#141414" stroke-width="0.08">CD56<tspan font-size="6.2" dy="-2.6">dim</tspan></text>
<line x1="208.8" y1="201" x2="208.8" y2="249.5" stroke="#111" stroke-width="1.1"/>
<line x1="206.60000000000002" y1="203.5" x2="208.8" y2="203.5" stroke="#111" stroke-width="1.0"/>
<text transform="translate(204.30,206.35) scale(1.0,1.15)" font-size="8" text-anchor="end" fill="#141414" stroke="#141414" stroke-width="0.08">100</text>
<line x1="206.60000000000002" y1="212.6" x2="208.8" y2="212.6" stroke="#111" stroke-width="1.0"/>
<text transform="translate(204.30,215.45) scale(1.0,1.15)" font-size="8" text-anchor="end" fill="#141414" stroke="#141414" stroke-width="0.08">80</text>
<line x1="206.60000000000002" y1="221.7" x2="208.8" y2="221.7" stroke="#111" stroke-width="1.0"/>
<text transform="translate(204.30,224.55) scale(1.0,1.15)" font-size="8" text-anchor="end" fill="#141414" stroke="#141414" stroke-width="0.08">60</text>
<line x1="206.60000000000002" y1="230.8" x2="208.8" y2="230.8" stroke="#111" stroke-width="1.0"/>
<text transform="translate(204.30,233.65) scale(1.0,1.15)" font-size="8" text-anchor="end" fill="#141414" stroke="#141414" stroke-width="0.08">40</text>
<line x1="206.60000000000002" y1="239.9" x2="208.8" y2="239.9" stroke="#111" stroke-width="1.0"/>
<text transform="translate(204.30,242.75) scale(1.0,1.15)" font-size="8" text-anchor="end" fill="#141414" stroke="#141414" stroke-width="0.08">20</text>
<line x1="206.60000000000002" y1="249" x2="208.8" y2="249" stroke="#111" stroke-width="1.0"/>
<text transform="translate(204.30,251.85) scale(1.0,1.15)" font-size="8" text-anchor="end" fill="#141414" stroke="#141414" stroke-width="0.08">0</text>
<line x1="208.3" y1="249" x2="254.6" y2="249" stroke="#111" stroke-width="1.1"/>
<line x1="220.5" y1="249" x2="220.5" y2="252" stroke="#111" stroke-width="1.0"/>
<text transform="translate(220.50,262.45) scale(1.0,1.15)" font-size="8" text-anchor="middle" fill="#141414" stroke="#141414" stroke-width="0.08">HD</text>
<line x1="243" y1="249" x2="243" y2="252" stroke="#111" stroke-width="1.0"/>
<text transform="translate(243.00,262.45) scale(1.0,1.15)" font-size="8" text-anchor="middle" fill="#141414" stroke="#141414" stroke-width="0.08">MM</text>
<text transform="translate(183.85,224.80) rotate(-90) scale(1.0,1.15)" font-size="8" text-anchor="middle" font-weight="bold" textLength="22" lengthAdjust="spacingAndGlyphs" fill="#141414" stroke="#141414" stroke-width="0.08">% cells</text>
<line x1="220.5" y1="226.7" x2="220.5" y2="229.0" stroke="#111" stroke-width="1.0"/>
<line x1="220.5" y1="235.3" x2="220.5" y2="239.1" stroke="#111" stroke-width="1.0"/>
<line x1="216.65" y1="226.7" x2="224.35" y2="226.7" stroke="#111" stroke-width="1.1"/>
<line x1="216.65" y1="239.1" x2="224.35" y2="239.1" stroke="#111" stroke-width="1.1"/>
<rect x="213.00" y="229.0" width="15.00" height="6.30" fill="#2e4b82" stroke="#1a1a1a" stroke-width="0.6"/>
<line x1="213.0" y1="232.5" x2="228.0" y2="232.5" stroke="#000" stroke-width="1.6"/>
<line x1="243.4" y1="217.5" x2="243.4" y2="220.3" stroke="#111" stroke-width="1.0"/>
<line x1="243.4" y1="226.7" x2="243.4" y2="228.1" stroke="#111" stroke-width="1.0"/>
<line x1="239.9" y1="217.5" x2="246.9" y2="217.5" stroke="#111" stroke-width="1.1"/>
<line x1="239.9" y1="228.1" x2="246.9" y2="228.1" stroke="#111" stroke-width="1.1"/>
<rect x="235.90" y="220.3" width="15.00" height="6.40" fill="#a4002c" stroke="#1a1a1a" stroke-width="0.6"/>
<line x1="235.9" y1="222.6" x2="250.9" y2="222.6" stroke="#000" stroke-width="1.6"/>
<line x1="218.5" y1="205.2" x2="243.9" y2="205.2" stroke="#0a0a0a" stroke-width="1.1"/>
<circle cx="228.50" cy="201.70" r="0.95" fill="#111"/>
<circle cx="231.35" cy="201.70" r="0.95" fill="#111"/>
<circle cx="234.20" cy="201.70" r="0.95" fill="#111"/>
<line x1="209.8" y1="273.7" x2="209.8" y2="322.8" stroke="#111" stroke-width="1.1"/>
<line x1="207.60000000000002" y1="276.2" x2="209.8" y2="276.2" stroke="#111" stroke-width="1.0"/>
<text transform="translate(204.30,279.05) scale(1.0,1.15)" font-size="8" text-anchor="end" fill="#141414" stroke="#141414" stroke-width="0.08">100</text>
<line x1="207.60000000000002" y1="285.4" x2="209.8" y2="285.4" stroke="#111" stroke-width="1.0"/>
<text transform="translate(204.30,288.25) scale(1.0,1.15)" font-size="8" text-anchor="end" fill="#141414" stroke="#141414" stroke-width="0.08">80</text>
<line x1="207.60000000000002" y1="294.6" x2="209.8" y2="294.6" stroke="#111" stroke-width="1.0"/>
<text transform="translate(204.30,297.45) scale(1.0,1.15)" font-size="8" text-anchor="end" fill="#141414" stroke="#141414" stroke-width="0.08">60</text>
<line x1="207.60000000000002" y1="303.8" x2="209.8" y2="303.8" stroke="#111" stroke-width="1.0"/>
<text transform="translate(204.30,306.65) scale(1.0,1.15)" font-size="8" text-anchor="end" fill="#141414" stroke="#141414" stroke-width="0.08">40</text>
<line x1="207.60000000000002" y1="313" x2="209.8" y2="313" stroke="#111" stroke-width="1.0"/>
<text transform="translate(204.30,315.85) scale(1.0,1.15)" font-size="8" text-anchor="end" fill="#141414" stroke="#141414" stroke-width="0.08">20</text>
<line x1="207.60000000000002" y1="322.3" x2="209.8" y2="322.3" stroke="#111" stroke-width="1.0"/>
<text transform="translate(204.30,325.15) scale(1.0,1.15)" font-size="8" text-anchor="end" fill="#141414" stroke="#141414" stroke-width="0.08">0</text>
<line x1="209.3" y1="322.3" x2="256.5" y2="322.3" stroke="#111" stroke-width="1.1"/>
<line x1="221.2" y1="322.3" x2="221.2" y2="325.3" stroke="#111" stroke-width="1.0"/>
<text transform="translate(221.20,335.85) scale(1.0,1.15)" font-size="8" text-anchor="middle" fill="#141414" stroke="#141414" stroke-width="0.08">HD</text>
<line x1="244.5" y1="322.3" x2="244.5" y2="325.3" stroke="#111" stroke-width="1.0"/>
<text transform="translate(244.50,335.85) scale(1.0,1.15)" font-size="8" text-anchor="middle" fill="#141414" stroke="#141414" stroke-width="0.08">MM</text>
<text transform="translate(183.85,297.70) rotate(-90) scale(1.0,1.15)" font-size="8" text-anchor="middle" font-weight="bold" textLength="22" lengthAdjust="spacingAndGlyphs" fill="#141414" stroke="#141414" stroke-width="0.08">% cells</text>
<line x1="221.0" y1="301.5" x2="221.0" y2="302.1" stroke="#111" stroke-width="1.0"/>
<line x1="221.0" y1="306.3" x2="221.0" y2="311.5" stroke="#111" stroke-width="1.0"/>
<line x1="217.45" y1="301.5" x2="224.55" y2="301.5" stroke="#111" stroke-width="1.1"/>
<line x1="217.45" y1="311.5" x2="224.55" y2="311.5" stroke="#111" stroke-width="1.1"/>
<rect x="213.30" y="302.1" width="15.40" height="4.20" fill="#2e4b82" stroke="#1a1a1a" stroke-width="0.6"/>
<line x1="213.3" y1="304.1" x2="228.7" y2="304.1" stroke="#000" stroke-width="1.6"/>
<line x1="244.8" y1="283.5" x2="244.8" y2="290.4" stroke="#111" stroke-width="1.0"/>
<line x1="244.8" y1="299.2" x2="244.8" y2="304.0" stroke="#111" stroke-width="1.0"/>
<line x1="240.95000000000002" y1="283.5" x2="248.65" y2="283.5" stroke="#111" stroke-width="1.1"/>
<line x1="240.95000000000002" y1="304.0" x2="248.65" y2="304.0" stroke="#111" stroke-width="1.1"/>
<rect x="236.90" y="290.4" width="15.80" height="8.80" fill="#a4002c" stroke="#1a1a1a" stroke-width="0.6"/>
<line x1="236.9" y1="293.8" x2="252.70000000000002" y2="293.8" stroke="#000" stroke-width="1.6"/>
<line x1="220.0" y1="279.4" x2="245.3" y2="279.4" stroke="#0a0a0a" stroke-width="1.1"/>
<circle cx="229.75" cy="276.10" r="0.95" fill="#111"/>
<circle cx="232.60" cy="276.10" r="0.95" fill="#111"/>
<circle cx="235.45" cy="276.10" r="0.95" fill="#111"/>
<text transform="translate(6.8,361.9) scale(0.92,1)" font-size="12.5" font-weight="bold" fill="#000" stroke="#000" stroke-width="0.35">D</text>
<text transform="translate(72.30,374.55) scale(1.0,1.15)" font-size="8" text-anchor="middle" fill="#141414" stroke="#141414" stroke-width="0.08">HD</text>
<text transform="translate(138.50,374.45) scale(1.0,1.15)" font-size="8" text-anchor="middle" fill="#141414" stroke="#141414" stroke-width="0.08">MM</text>
<text transform="translate(25.00,405.25) scale(1.0,1.15)" font-size="8" text-anchor="middle" fill="#141414" stroke="#141414" stroke-width="0.08">PB</text>
<text transform="translate(24.20,459.35) scale(1.0,1.15)" font-size="8" text-anchor="middle" fill="#141414" stroke="#141414" stroke-width="0.08">BM</text>
<rect x="45.5" y="379.5" width="57.00" height="57.00" fill="none" stroke="#4a4a4a" stroke-width="1.05"/>
<path d="M44.3,382.5h1.2M44.3,385.9h1.2M44.3,391.0h1.2M44.3,392.7h1.2M44.3,394.4h1.2M44.3,396.1h1.2M44.3,397.8h1.2M44.3,399.5h1.2M44.3,401.2h1.2M44.3,402.9h1.2M44.3,404.6h1.2M44.3,408.0h1.2M44.3,409.7h1.2M44.3,418.2h1.2M44.3,419.9h1.2M44.3,421.6h1.2M44.3,423.3h1.2M44.3,425.0h1.2M44.3,426.7h1.2M44.3,428.4h1.2M44.3,431.8h1.2M44.3,435.2h1.2M47.5,436.5v1.2M49.2,436.5v1.2M50.9,436.5v1.2M52.6,436.5v1.2M54.3,436.5v1.2M59.4,436.5v1.2M66.2,436.5v1.2M67.9,436.5v1.2M69.6,436.5v1.2M73.0,436.5v1.2M74.7,436.5v1.2M76.4,436.5v1.2M78.1,436.5v1.2M79.8,436.5v1.2M84.9,436.5v1.2M88.3,436.5v1.2M91.7,436.5v1.2M93.4,436.5v1.2M95.1,436.5v1.2M96.8,436.5v1.2M98.5,436.5v1.2M100.2,436.5v1.2" stroke="#222" stroke-width="0.8" fill="none"/>
<rect x="111.5" y="379.5" width="57.00" height="57.00" fill="none" stroke="#4a4a4a" stroke-width="1.05"/>
<path d="M110.3,384.2h1.2M110.3,396.1h1.2M110.3,397.8h1.2M110.3,399.5h1.2M110.3,401.2h1.2M110.3,402.9h1.2M110.3,409.7h1.2M110.3,413.1h1.2M110.3,416.5h1.2M110.3,431.8h1.2M110.3,433.5h1.2M113.5,436.5v1.2M116.9,436.5v1.2M118.6,436.5v1.2M120.3,436.5v1.2M123.7,436.5v1.2M125.4,436.5v1.2M127.1,436.5v1.2M132.2,436.5v1.2M137.3,436.5v1.2M139.0,436.5v1.2M144.1,436.5v1.2M145.8,436.5v1.2M152.6,436.5v1.2M156.0,436.5v1.2M157.7,436.5v1.2M159.4,436.5v1.2M162.8,436.5v1.2" stroke="#222" stroke-width="0.8" fill="none"/>
<rect x="45.5" y="441.5" width="57.00" height="57.00" fill="none" stroke="#4a4a4a" stroke-width="1.05"/>
<path d="M44.3,446.2h1.2M44.3,449.6h1.2M44.3,451.3h1.2M44.3,453.0h1.2M44.3,458.1h1.2M44.3,463.2h1.2M44.3,471.7h1.2M44.3,475.1h1.2M44.3,478.5h1.2M44.3,481.9h1.2M44.3,485.3h1.2M44.3,487.0h1.2M44.3,488.7h1.2M44.3,492.1h1.2M44.3,495.5h1.2M44.3,497.2h1.2M50.9,498.5v1.2M52.6,498.5v1.2M54.3,498.5v1.2M56.0,498.5v1.2M57.7,498.5v1.2M64.5,498.5v1.2M66.2,498.5v1.2M67.9,498.5v1.2M69.6,498.5v1.2M73.0,498.5v1.2M76.4,498.5v1.2M78.1,498.5v1.2M88.3,498.5v1.2M93.4,498.5v1.2M95.1,498.5v1.2M98.5,498.5v1.2" stroke="#222" stroke-width="0.8" fill="none"/>
<rect x="111.5" y="441.5" width="57.00" height="57.00" fill="none" stroke="#4a4a4a" stroke-width="1.05"/>
<path d="M110.3,444.5h1.2M110.3,446.2h1.2M110.3,449.6h1.2M110.3,451.3h1.2M110.3,454.7h1.2M110.3,456.4h1.2M110.3,461.5h1.2M110.3,463.2h1.2M110.3,466.6h1.2M110.3,468.3h1.2M110.3,473.4h1.2M110.3,476.8h1.2M110.3,480.2h1.2M110.3,483.6h1.2M110.3,485.3h1.2M110.3,488.7h1.2M110.3,493.8h1.2M110.3,495.5h1.2M110.3,497.2h1.2M113.5,498.5v1.2M116.9,498.5v1.2M118.6,498.5v1.2M122.0,498.5v1.2M125.4,498.5v1.2M127.1,498.5v1.2M128.8,498.5v1.2M130.5,498.5v1.2M132.2,498.5v1.2M137.3,498.5v1.2M139.0,498.5v1.2M140.7,498.5v1.2M144.1,498.5v1.2M147.5,498.5v1.2M149.2,498.5v1.2M154.3,498.5v1.2M156.0,498.5v1.2M157.7,498.5v1.2M159.4,498.5v1.2M161.1,498.5v1.2M164.5,498.5v1.2M166.2,498.5v1.2" stroke="#222" stroke-width="0.8" fill="none"/>
<line x1="36.4" y1="381.2" x2="36.4" y2="467" stroke="#3a3a3a" stroke-width="1.2"/>
<path d="M34.00,383.70 L36.40,378.20 L38.80,383.70 L36.40,382.80 Z" fill="#000"/>
<text transform="translate(39.72,487.20) rotate(-90) scale(1.0,1.25)" font-size="7.5" text-anchor="middle" font-weight="bold" textLength="22" lengthAdjust="spacingAndGlyphs" fill="#141414" stroke="#141414" stroke-width="0.08">NKG2A</text>
<text transform="translate(57.20,510.42) scale(1.0,1.25)" font-size="7.5" text-anchor="middle" font-weight="bold" textLength="15.3" lengthAdjust="spacingAndGlyphs" fill="#141414" stroke="#141414" stroke-width="0.08">CD94</text>
<line x1="68.8" y1="506.3" x2="163.2" y2="506.3" stroke="#3a3a3a" stroke-width="1.2"/>
<path d="M160.70,503.90 L166.20,506.30 L160.70,508.70 L161.60,506.30 Z" fill="#000"/>
<path d="M63.8,429.3 62.8,429.5 61.8,429.3 58.9,427.5 58.2,426.5 56.6,423.0 56.3,422.0 56.3,420.8 57.8,416.4 58.2,415.9 59.5,415.5 60.8,414.4 64.5,413.3 66.2,412.2 67.0,411.3 68.2,409.0 69.7,407.2 72.2,405.3 77.6,402.2 78.8,401.0 80.8,398.2 82.0,397.1 87.8,393.5 89.2,393.2 90.5,393.6 91.2,395.0 91.2,396.5 90.4,398.2 89.9,400.8 88.8,402.1 87.4,404.5 86.8,405.2 85.0,406.4 82.8,407.4 81.7,410.0 80.2,411.4 79.4,413.0 78.0,414.8 76.9,415.8 75.8,417.2 73.7,418.2 72.4,419.5 71.0,421.5 69.7,424.5 69.3,426.0 68.8,426.8 66.8,428.5 64.8,428.8Z" fill="#9a9a9a" stroke="#000" stroke-width="1.3" stroke-linejoin="round"/>
<path d="M63.5,428.0 62.8,428.2 62.0,427.9 59.2,426.0 58.2,424.5 57.6,422.8 57.5,420.8 57.9,419.2 58.6,417.5 61.5,415.3 64.8,414.5 66.9,413.2 68.0,412.0 69.2,409.3 70.9,407.8 76.8,404.0 79.5,403.0 80.7,400.2 82.5,398.0 85.2,396.5 87.5,394.5 88.8,394.1 89.8,394.2 90.4,395.2 90.4,396.5 89.3,398.5 88.9,400.2 86.8,403.6 85.5,404.6 84.0,405.4 82.2,406.0 81.9,406.5 80.8,409.2 77.0,414.2 74.6,416.5 71.8,418.0 70.9,418.8 69.8,420.8 69.3,423.2 67.7,426.2 66.5,427.1Z" fill="#b8b8b8" stroke="#111" stroke-width="0.75" stroke-linejoin="round"/>
<path d="M84.2,403.8 83.0,403.9 81.9,403.5 81.5,402.2 81.9,400.8 83.2,399.1 86.2,397.4 87.6,395.5 88.2,395.1 89.0,395.1 89.5,395.8 89.4,396.5 87.7,398.5 87.3,400.5 86.9,401.5 85.8,403.0ZM69.2,416.3 68.8,416.2 68.5,416.0 68.3,415.2 68.5,414.5 69.8,411.2 71.6,409.0 72.5,408.2 74.8,406.9 77.2,405.0 78.8,404.7 79.5,404.9 80.2,405.2 80.6,406.5 80.2,408.2 77.9,410.8 75.8,413.6 72.8,415.9ZM64.5,426.5 63.2,426.7 62.0,426.4 60.5,425.6 59.5,424.6 59.0,423.5 58.7,422.0 58.7,420.5 59.1,419.2 59.5,418.4 60.1,417.8 61.5,416.8 62.8,416.3 65.0,416.1 68.0,416.7 68.3,417.0 68.5,418.0 68.5,421.2 68.2,423.0 67.5,424.5 66.8,425.4 65.8,426.1Z" fill="#909090" stroke="#111" stroke-width="0.75" stroke-linejoin="round"/>
<path d="M77.8,408.5 77.1,408.5 76.8,408.2 76.9,407.2 77.8,406.3 78.8,406.3 79.1,406.8 79.1,407.5 78.5,408.2ZM72.8,413.3 72.0,413.2 71.7,412.8 71.8,412.0 72.2,411.2 73.8,409.9 74.5,409.6 75.2,409.8 75.4,410.5 74.8,411.8 73.8,412.8ZM64.5,425.3 63.0,425.4 61.5,424.8 60.5,423.7 59.9,422.2 59.9,420.8 60.5,419.2 61.5,418.2 63.0,417.5 64.5,417.5 65.8,418.0 66.7,419.0 67.2,420.2 67.2,422.0 66.7,423.5 65.8,424.6Z" fill="#b0b0b0" stroke="#111" stroke-width="0.75" stroke-linejoin="round"/>
<path d="M64.0,424.1 63.0,424.1 62.2,423.7 61.5,423.0 61.1,422.0 61.1,421.0 61.5,420.0 62.2,419.2 63.2,418.8 64.2,418.9 65.0,419.2 65.7,420.0 66.0,421.0 66.0,422.0 65.5,423.0 64.8,423.8Z" fill="#888888" stroke="#111" stroke-width="0.75" stroke-linejoin="round"/>
<path d="M63.5,422.8 62.8,422.5 62.3,421.5 62.7,420.5 63.5,420.2 64.4,420.5 64.8,421.5 64.3,422.5Z" fill="#111111" stroke="#111" stroke-width="0.75" stroke-linejoin="round"/>
<path d="M130.8,429.5 129.5,429.5 125.0,427.9 124.0,427.0 122.7,424.8 122.5,423.8 122.4,420.8 123.0,419.4 123.3,417.8 124.6,415.5 126.0,414.3 128.2,414.0 131.6,412.2 133.8,410.4 135.2,407.8 139.7,404.0 141.6,401.5 143.9,399.8 145.0,398.5 147.5,397.5 148.5,397.3 150.5,397.3 152.0,397.8 152.5,398.2 152.9,399.0 153.6,402.0 152.7,406.2 151.4,408.5 150.6,409.5 149.3,410.5 148.6,412.0 147.5,413.0 146.8,414.4 144.8,416.8 144.0,417.3 142.2,417.8 141.5,418.4 140.8,419.8 137.8,423.0 136.9,425.8 135.2,428.0 132.8,429.2Z" fill="#9a9a9a" stroke="#000" stroke-width="1.3" stroke-linejoin="round"/>
<path d="M130.2,428.3 128.2,428.1 126.1,427.0 125.1,426.2 124.4,425.0 123.7,423.2 123.4,421.2 124.0,418.8 124.6,417.8 125.8,416.4 127.0,415.4 128.8,414.8 131.2,414.4 132.5,413.6 134.2,411.6 136.5,408.2 141.1,404.2 142.9,402.0 145.8,399.5 147.5,398.4 148.5,398.0 150.0,398.0 151.2,398.5 151.8,399.0 152.2,400.0 152.5,401.5 152.5,402.8 151.3,405.8 149.8,408.2 146.5,412.0 143.8,415.7 138.2,418.7 137.7,419.2 137.2,420.0 136.1,424.2 135.0,426.1 132.2,427.9Z" fill="#b8b8b8" stroke="#111" stroke-width="0.75" stroke-linejoin="round"/>
<path d="M130.0,427.0 128.8,426.9 127.2,426.2 126.2,425.4 125.3,424.0 124.8,422.8 124.7,421.0 124.9,419.8 125.5,418.5 127.0,417.0 128.8,416.1 130.5,415.9 133.8,416.0 134.7,415.8 135.9,411.8 137.5,409.3 141.0,406.5 142.2,405.1 143.8,403.0 147.4,399.8 149.0,399.0 149.8,399.0 150.5,399.3 151.4,400.5 151.5,402.2 149.6,406.0 148.5,407.7 145.5,410.8 143.2,413.8 141.5,415.4 139.0,416.6 136.2,416.7 135.8,416.9 135.5,417.8 135.5,422.0 134.7,424.2 133.8,425.5 132.8,426.2 131.5,426.8Z" fill="#909090" stroke="#111" stroke-width="0.75" stroke-linejoin="round"/>
<path d="M144.8,408.3 143.8,408.4 143.5,408.0 143.7,406.5 144.5,404.8 145.2,403.8 146.8,402.5 148.2,400.8 149.0,400.4 149.8,400.5 150.2,401.2 150.1,402.0 148.8,404.0 147.8,406.2 146.5,407.5ZM139.8,413.8 138.9,413.8 138.3,413.2 138.2,412.5 138.6,411.5 139.2,410.7 140.5,409.9 141.8,409.4 142.5,409.5 142.5,410.5 141.9,412.0 140.8,413.2ZM131.0,425.5 129.2,425.6 127.8,425.0 126.6,423.8 126.0,422.2 126.1,420.5 126.8,419.0 128.0,417.9 129.5,417.3 131.0,417.3 132.5,417.9 133.5,418.8 134.1,420.2 134.1,422.0 133.6,423.5 132.5,424.8Z" fill="#b0b0b0" stroke="#111" stroke-width="0.75" stroke-linejoin="round"/>
<path d="M130.2,424.3 129.0,424.1 128.1,423.5 127.5,422.5 127.3,421.5 127.5,420.5 128.1,419.5 129.0,418.9 130.0,418.7 131.0,418.8 132.0,419.4 132.5,420.2 132.8,421.2 132.6,422.2 132.1,423.2 131.2,424.0Z" fill="#888888" stroke="#111" stroke-width="0.75" stroke-linejoin="round"/>
<path d="M130.5,422.8 129.5,422.7 128.8,422.0 128.8,421.0 129.5,420.2 130.5,420.2 131.0,420.5 131.3,421.0 131.2,422.0Z" fill="#111111" stroke="#111" stroke-width="0.75" stroke-linejoin="round"/>
<path d="M65.2,491.8 64.0,491.9 60.5,491.0 58.8,489.7 57.7,488.5 57.0,487.0 57.0,485.8 57.3,483.2 58.4,481.0 61.0,478.7 63.2,478.0 64.8,477.2 67.7,472.8 70.5,470.0 72.3,469.0 74.0,466.5 77.0,463.2 79.0,462.1 80.5,459.8 82.3,458.2 83.2,457.1 84.0,456.7 84.8,456.6 87.5,457.4 88.3,458.2 88.8,459.5 88.8,461.2 88.6,462.5 85.2,467.8 83.8,470.8 83.4,472.2 81.1,475.0 78.7,476.5 77.2,478.4 75.8,479.3 73.8,481.3 71.8,482.7 69.9,488.5 68.2,490.2Z" fill="#9a9a9a" stroke="#000" stroke-width="1.3" stroke-linejoin="round"/>
<path d="M65.2,490.8 64.0,490.8 61.5,490.2 60.5,489.6 59.2,488.2 58.4,486.5 58.2,485.0 58.4,483.5 59.1,482.0 60.2,480.7 62.0,479.5 63.5,478.9 65.5,478.7 66.2,478.4 67.4,475.2 68.3,473.8 71.0,471.1 72.8,469.8 74.3,467.8 76.1,465.8 79.5,462.8 81.2,460.2 82.2,459.2 83.5,458.2 84.5,457.8 85.5,457.9 86.8,458.4 87.3,459.0 87.8,460.0 87.9,461.2 87.7,462.5 84.1,467.2 82.2,472.0 80.2,474.0 77.7,476.0 74.5,479.4 70.8,482.0 70.2,483.1 69.6,486.5 69.0,488.0 67.6,489.5Z" fill="#b8b8b8" stroke="#111" stroke-width="0.75" stroke-linejoin="round"/>
<path d="M70.5,480.0 69.0,479.9 68.5,479.5 68.3,478.8 68.2,477.5 68.4,476.2 69.4,474.2 70.8,472.9 73.7,470.5 76.8,466.6 80.0,464.2 81.6,461.5 82.8,460.1 84.2,459.3 85.0,459.3 85.8,459.6 86.4,460.8 86.3,462.5 85.5,463.8 82.8,466.8 81.9,469.8 81.1,471.5 79.8,472.9 76.8,475.2 73.9,478.5 72.2,479.5ZM65.2,489.5 63.2,489.6 61.5,489.0 60.1,487.5 59.4,485.8 59.4,484.2 60.1,482.5 61.5,481.0 63.0,480.4 65.0,480.2 67.2,480.8 68.0,481.5 68.6,483.0 68.7,485.2 68.2,487.1 67.0,488.6Z" fill="#909090" stroke="#111" stroke-width="0.75" stroke-linejoin="round"/>
<path d="M83.8,463.0 83.2,463.0 83.2,462.2 83.8,461.6 84.2,461.5 84.5,461.8 84.4,462.2ZM71.5,478.0 70.5,477.8 70.1,477.0 70.2,476.0 70.9,474.8 72.0,473.8 74.1,472.8 74.7,472.2 76.3,469.2 77.5,467.8 79.0,466.9 79.8,466.9 80.2,467.1 80.7,467.8 80.7,468.8 80.4,470.0 79.8,471.0 78.5,472.1 75.8,473.5 73.5,476.8 72.5,477.7ZM64.5,488.5 63.0,488.4 61.8,487.7 60.8,486.5 60.5,485.2 60.6,484.0 61.3,482.8 62.2,481.9 63.8,481.4 65.0,481.5 66.2,482.1 67.1,483.0 67.6,484.5 67.4,486.0 66.8,487.2 65.8,488.1Z" fill="#b0b0b0" stroke="#111" stroke-width="0.75" stroke-linejoin="round"/>
<path d="M64.5,487.3 63.5,487.3 62.8,487.0 62.0,486.3 61.7,485.5 61.7,484.5 62.0,483.8 62.7,483.0 63.5,482.7 64.5,482.7 65.4,483.0 66.0,483.6 66.3,484.5 66.3,485.5 66.0,486.2 65.3,487.0Z" fill="#888888" stroke="#111" stroke-width="0.75" stroke-linejoin="round"/>
<path d="M64.5,486.0 63.5,486.0 63.0,485.5 63.0,484.5 63.5,484.0 64.5,483.9 65.1,484.5 65.0,485.5Z" fill="#111111" stroke="#111" stroke-width="0.75" stroke-linejoin="round"/>
<path d="M127.5,492.3 125.0,492.5 123.0,492.0 121.2,490.7 119.8,488.5 119.6,487.8 119.7,486.0 119.6,484.0 121.3,480.8 125.2,476.7 128.1,475.5 130.5,472.5 132.0,471.5 133.5,469.5 138.3,465.5 140.0,463.6 143.5,461.4 145.0,459.5 147.2,458.4 148.0,458.2 148.8,458.5 149.7,459.5 150.1,460.8 150.1,461.5 148.8,466.0 147.2,468.8 145.2,471.5 144.0,472.8 142.3,475.8 140.5,477.3 139.3,479.2 136.5,481.3 135.0,485.2 133.6,486.8 132.8,488.5Z" fill="#9a9a9a" stroke="#000" stroke-width="1.3" stroke-linejoin="round"/>
<path d="M126.5,491.0 125.0,491.1 123.0,490.5 122.0,489.8 121.0,488.2 120.8,487.2 120.9,484.2 121.2,483.2 122.0,481.5 124.0,479.1 125.0,478.2 126.2,477.4 128.5,476.6 129.4,476.0 133.8,470.5 139.0,466.0 140.5,464.5 143.8,462.2 145.5,460.1 147.2,459.2 148.0,459.2 148.5,459.4 149.2,460.5 149.1,462.0 147.7,466.0 145.8,469.0 143.0,472.5 141.4,475.0 138.5,478.4 136.5,479.8 135.8,480.6 134.8,482.4 133.7,485.0 131.7,488.0 129.2,490.1Z" fill="#b8b8b8" stroke="#111" stroke-width="0.75" stroke-linejoin="round"/>
<path d="M127.2,489.5 125.8,489.7 124.5,489.4 123.3,488.8 122.5,487.8 122.1,486.5 122.1,484.8 122.5,483.0 123.2,481.8 124.5,480.1 125.8,479.1 127.2,478.4 129.8,477.6 130.7,477.0 131.3,476.2 133.3,473.0 134.8,471.2 138.0,468.5 141.5,465.1 144.3,463.2 146.1,460.8 147.2,460.3 148.0,460.5 148.3,461.2 148.2,462.0 146.5,464.5 145.8,466.8 144.9,468.5 141.9,472.0 138.8,476.2 137.2,477.7 135.4,479.0 134.2,480.2 133.7,481.2 132.5,485.0 131.2,487.0 129.2,488.8Z" fill="#909090" stroke="#111" stroke-width="0.75" stroke-linejoin="round"/>
<path d="M135.8,476.5 134.8,476.7 134.4,476.5 134.1,476.0 134.3,474.5 135.2,473.0 136.5,471.7 139.2,469.8 142.0,466.5 143.0,465.9 143.8,465.9 144.0,466.2 144.0,466.8 143.3,468.2 140.5,471.0 137.8,475.1 136.8,476.0ZM127.2,488.3 125.5,488.2 124.8,487.9 124.0,487.2 123.6,486.5 123.4,485.5 123.4,484.5 123.7,483.2 125.0,481.3 126.8,480.0 128.8,479.4 130.8,479.5 131.5,480.0 131.9,481.2 131.9,482.8 131.4,484.5 130.8,485.8 129.8,486.9 128.5,487.8Z" fill="#b0b0b0" stroke="#111" stroke-width="0.75" stroke-linejoin="round"/>
<path d="M127.5,486.8 126.2,486.8 125.2,486.3 124.8,485.2 124.8,484.0 125.4,482.8 126.5,481.6 127.8,481.0 129.1,481.0 129.8,481.3 130.2,482.0 130.4,483.0 130.3,484.0 129.2,485.8 128.5,486.4Z" fill="#888888" stroke="#111" stroke-width="0.75" stroke-linejoin="round"/>
<path d="M127.8,485.3 127.2,485.4 126.6,485.2 126.2,484.8 126.2,484.2 126.8,483.0 127.2,482.7 128.0,482.5 128.8,482.9 128.9,483.8 128.5,484.7Z" fill="#111111" stroke="#111" stroke-width="0.75" stroke-linejoin="round"/>
<rect x="50.5" y="407.5" width="20.00" height="25.00" fill="none" stroke="#333" stroke-width="1.0"/>
<rect x="118.5" y="407.5" width="20.00" height="24.00" fill="none" stroke="#333" stroke-width="1.0"/>
<rect x="50.5" y="470.5" width="20.00" height="24.00" fill="none" stroke="#333" stroke-width="1.0"/>
<rect x="115.5" y="471.5" width="21.00" height="23.00" fill="none" stroke="#333" stroke-width="1.0"/>
<text transform="translate(81.20,430.14) scale(1.0,1.15)" font-size="7.5" text-anchor="middle" fill="#141414" stroke="#141414" stroke-width="0.08">25.3</text>
<text transform="translate(148.40,430.14) scale(1.0,1.15)" font-size="7.5" text-anchor="middle" fill="#141414" stroke="#141414" stroke-width="0.08">67.9</text>
<text transform="translate(83.00,493.04) scale(1.0,1.15)" font-size="7.5" text-anchor="middle" fill="#141414" stroke="#141414" stroke-width="0.08">29.8</text>
<text transform="translate(150.00,490.24) scale(1.0,1.15)" font-size="7.5" text-anchor="middle" fill="#141414" stroke="#141414" stroke-width="0.08">80.3</text>
<text transform="translate(266.3,159.0) scale(0.92,1)" font-size="12.5" font-weight="bold" fill="#000" stroke="#000" stroke-width="0.35">E</text>
<text transform="translate(324.40,172.15) scale(1.0,1.15)" font-size="8" text-anchor="middle" fill="#141414" stroke="#141414" stroke-width="0.08">HD</text>
<line x1="304.2" y1="175.8" x2="348.8" y2="175.8" stroke="#111" stroke-width="1.0"/>
<text transform="translate(323.50,186.65) scale(1.0,1.15)" font-size="8" text-anchor="middle" fill="#141414" stroke="#141414" stroke-width="0.08">PB</text>
<text transform="translate(417.70,171.85) scale(1.0,1.15)" font-size="8" text-anchor="middle" fill="#141414" stroke="#141414" stroke-width="0.08">MM</text>
<line x1="372.1" y1="176" x2="471.1" y2="176" stroke="#111" stroke-width="1.0"/>
<text transform="translate(388.50,186.65) scale(1.0,1.15)" font-size="8" text-anchor="middle" fill="#141414" stroke="#141414" stroke-width="0.08">PB</text>
<text transform="translate(451.00,186.75) scale(1.0,1.15)" font-size="8" text-anchor="middle" fill="#141414" stroke="#141414" stroke-width="0.08">BM</text>
<rect x="296.5" y="191.5" width="56.00" height="57.00" fill="none" stroke="#4a4a4a" stroke-width="1.05"/>
<path d="M295.3,194.5h1.2M295.3,197.9h1.2M295.3,199.6h1.2M295.3,201.3h1.2M295.3,203.0h1.2M295.3,206.4h1.2M295.3,211.5h1.2M295.3,213.2h1.2M295.3,214.9h1.2M295.3,216.6h1.2M295.3,218.3h1.2M295.3,220.0h1.2M295.3,221.7h1.2M295.3,225.1h1.2M295.3,226.8h1.2M295.3,235.3h1.2M295.3,242.1h1.2M295.3,243.8h1.2M300.2,248.5v1.2M301.9,248.5v1.2M305.3,248.5v1.2M308.7,248.5v1.2M312.1,248.5v1.2M313.8,248.5v1.2M315.5,248.5v1.2M325.7,248.5v1.2M330.8,248.5v1.2M332.5,248.5v1.2M337.6,248.5v1.2M344.4,248.5v1.2M347.8,248.5v1.2M349.5,248.5v1.2" stroke="#222" stroke-width="0.8" fill="none"/>
<rect x="360.5" y="191.5" width="57.00" height="57.00" fill="none" stroke="#4a4a4a" stroke-width="1.05"/>
<path d="M359.3,199.6h1.2M359.3,201.3h1.2M359.3,206.4h1.2M359.3,211.5h1.2M359.3,214.9h1.2M359.3,216.6h1.2M359.3,220.0h1.2M359.3,221.7h1.2M359.3,223.4h1.2M359.3,226.8h1.2M359.3,228.5h1.2M359.3,233.6h1.2M359.3,238.7h1.2M359.3,243.8h1.2M359.3,245.5h1.2M365.9,248.5v1.2M367.6,248.5v1.2M371.0,248.5v1.2M372.7,248.5v1.2M377.8,248.5v1.2M381.2,248.5v1.2M382.9,248.5v1.2M396.5,248.5v1.2M398.2,248.5v1.2M399.9,248.5v1.2M403.3,248.5v1.2M406.7,248.5v1.2M408.4,248.5v1.2M410.1,248.5v1.2M411.8,248.5v1.2M415.2,248.5v1.2" stroke="#222" stroke-width="0.8" fill="none"/>
<rect x="423.5" y="192.5" width="57.00" height="56.00" fill="none" stroke="#4a4a4a" stroke-width="1.05"/>
<path d="M422.3,197.2h1.2M422.3,204.0h1.2M422.3,209.1h1.2M422.3,214.2h1.2M422.3,219.3h1.2M422.3,221.0h1.2M422.3,222.7h1.2M422.3,227.8h1.2M422.3,229.5h1.2M422.3,234.6h1.2M422.3,238.0h1.2M422.3,239.7h1.2M422.3,243.1h1.2M422.3,244.8h1.2M432.3,248.5v1.2M435.7,248.5v1.2M440.8,248.5v1.2M442.5,248.5v1.2M444.2,248.5v1.2M449.3,248.5v1.2M459.5,248.5v1.2M461.2,248.5v1.2M462.9,248.5v1.2M464.6,248.5v1.2M469.7,248.5v1.2M473.1,248.5v1.2M474.8,248.5v1.2" stroke="#222" stroke-width="0.8" fill="none"/>
<rect x="296.5" y="263.5" width="57.00" height="53.00" fill="none" stroke="#4a4a4a" stroke-width="1.05"/>
<path d="M295.3,269.9h1.2M295.3,271.6h1.2M295.3,275.0h1.2M295.3,278.4h1.2M295.3,280.1h1.2M295.3,290.3h1.2M295.3,293.7h1.2M295.3,295.4h1.2M295.3,297.1h1.2M295.3,300.5h1.2M295.3,303.9h1.2M295.3,310.7h1.2M295.3,314.1h1.2M300.2,316.5v1.2M303.6,316.5v1.2M305.3,316.5v1.2M307.0,316.5v1.2M308.7,316.5v1.2M310.4,316.5v1.2M312.1,316.5v1.2M313.8,316.5v1.2M315.5,316.5v1.2M317.2,316.5v1.2M318.9,316.5v1.2M322.3,316.5v1.2M325.7,316.5v1.2M327.4,316.5v1.2M330.8,316.5v1.2M339.3,316.5v1.2M342.7,316.5v1.2M347.8,316.5v1.2" stroke="#222" stroke-width="0.8" fill="none"/>
<rect x="360.5" y="263.5" width="57.00" height="53.00" fill="none" stroke="#4a4a4a" stroke-width="1.05"/>
<path d="M359.3,268.2h1.2M359.3,269.9h1.2M359.3,271.6h1.2M359.3,275.0h1.2M359.3,280.1h1.2M359.3,283.5h1.2M359.3,286.9h1.2M359.3,295.4h1.2M359.3,297.1h1.2M359.3,298.8h1.2M359.3,302.2h1.2M359.3,305.6h1.2M359.3,307.3h1.2M359.3,309.0h1.2M359.3,312.4h1.2M364.2,316.5v1.2M371.0,316.5v1.2M381.2,316.5v1.2M382.9,316.5v1.2M389.7,316.5v1.2M393.1,316.5v1.2M394.8,316.5v1.2M399.9,316.5v1.2M406.7,316.5v1.2M408.4,316.5v1.2M411.8,316.5v1.2M413.5,316.5v1.2M415.2,316.5v1.2" stroke="#222" stroke-width="0.8" fill="none"/>
<rect x="423.5" y="263.5" width="57.00" height="53.00" fill="none" stroke="#4a4a4a" stroke-width="1.05"/>
<path d="M422.3,268.2h1.2M422.3,271.6h1.2M422.3,273.3h1.2M422.3,275.0h1.2M422.3,276.7h1.2M422.3,281.8h1.2M422.3,283.5h1.2M422.3,286.9h1.2M422.3,292.0h1.2M422.3,297.1h1.2M422.3,298.8h1.2M422.3,300.5h1.2M422.3,302.2h1.2M422.3,305.6h1.2M422.3,310.7h1.2M422.3,312.4h1.2M422.3,314.1h1.2M427.2,316.5v1.2M432.3,316.5v1.2M437.4,316.5v1.2M439.1,316.5v1.2M442.5,316.5v1.2M445.9,316.5v1.2M447.6,316.5v1.2M451.0,316.5v1.2M452.7,316.5v1.2M454.4,316.5v1.2M456.1,316.5v1.2M462.9,316.5v1.2M466.3,316.5v1.2M468.0,316.5v1.2M469.7,316.5v1.2M471.4,316.5v1.2M473.1,316.5v1.2M474.8,316.5v1.2M476.5,316.5v1.2M478.2,316.5v1.2" stroke="#222" stroke-width="0.8" fill="none"/>
<line x1="286.8" y1="194.2" x2="286.8" y2="221.5" stroke="#3a3a3a" stroke-width="1.2"/>
<path d="M284.40,196.70 L286.80,191.20 L289.20,196.70 L286.80,195.80 Z" fill="#000"/>
<text transform="translate(289.82,235.90) rotate(-90) scale(1.0,1.25)" font-size="7.5" text-anchor="middle" font-weight="bold" textLength="15.6" lengthAdjust="spacingAndGlyphs" fill="#141414" stroke="#141414" stroke-width="0.08">CD94</text>
<text transform="translate(306.10,259.52) scale(1.0,1.25)" font-size="7.5" text-anchor="middle" font-weight="bold" textLength="12" lengthAdjust="spacingAndGlyphs" fill="#141414" stroke="#141414" stroke-width="0.08">Ki67</text>
<line x1="314.7" y1="255.4" x2="473" y2="255.4" stroke="#3a3a3a" stroke-width="1.2"/>
<path d="M470.50,253.00 L476.00,255.40 L470.50,257.80 L471.40,255.40 Z" fill="#000"/>
<line x1="286.7" y1="269" x2="286.7" y2="295.8" stroke="#3a3a3a" stroke-width="1.2"/>
<path d="M284.30,271.50 L286.70,266.00 L289.10,271.50 L286.70,270.60 Z" fill="#000"/>
<text transform="translate(289.72,307.10) rotate(-90) scale(1.0,1.25)" font-size="7.5" text-anchor="middle" font-weight="bold" textLength="11.8" lengthAdjust="spacingAndGlyphs" fill="#141414" stroke="#141414" stroke-width="0.08">KIRs</text>
<text transform="translate(304.50,329.82) scale(1.0,1.25)" font-size="7.5" text-anchor="middle" font-weight="bold" textLength="12" lengthAdjust="spacingAndGlyphs" fill="#141414" stroke="#141414" stroke-width="0.08">Ki67</text>
<line x1="313.8" y1="326.4" x2="477.5" y2="326.4" stroke="#3a3a3a" stroke-width="1.2"/>
<path d="M475.00,324.00 L480.50,326.40 L475.00,328.80 L475.90,326.40 Z" fill="#000"/>
<path d="M314.3,236.8 312.6,236.9 311.1,236.2 310.0,235.0 308.8,232.0 308.4,228.2 309.1,223.5 309.0,219.8 308.8,219.0 307.4,216.5 306.9,215.0 306.7,213.5 307.3,211.2 308.9,209.2 309.8,208.6 311.8,207.6 313.1,207.3 315.3,207.6 318.1,209.1 319.0,210.2 320.1,212.8 320.3,213.5 319.9,216.2 318.5,219.0 317.6,222.0 317.8,227.2 318.1,230.2 317.9,232.5 317.4,233.8 316.5,235.2 315.6,236.1Z" fill="#a8a8a8" stroke="#000" stroke-width="1.1" stroke-linejoin="round"/>
<path d="M313.6,235.3 312.3,235.2 311.3,234.5 310.4,233.2 309.7,231.5 309.4,228.5 310.3,224.2 310.4,219.8 310.1,218.5 308.5,215.8 308.2,214.2 308.6,212.2 309.8,210.3 311.3,209.4 313.3,208.8 315.3,209.1 317.3,210.3 318.4,212.0 318.9,214.0 318.7,215.8 316.7,219.0 316.4,221.0 316.4,224.8 317.2,229.5 316.9,231.8 316.4,233.2 315.8,234.0 314.6,234.9Z" fill="#c8c8c8" stroke="#111" stroke-width="0.55" stroke-linejoin="round"/>
<path d="M313.3,233.8 312.3,233.5 311.6,232.9 311.0,232.0 310.6,230.8 310.6,228.2 311.8,224.5 312.0,221.8 312.6,219.2 312.4,218.8 310.2,216.0 309.8,215.0 309.7,214.0 310.0,212.5 310.8,211.2 312.1,210.4 313.6,210.1 315.1,210.4 316.4,211.2 317.2,212.5 317.5,214.2 317.4,215.2 316.9,216.2 314.8,218.5 314.3,219.2 314.8,222.0 314.9,224.5 316.0,228.0 316.1,230.0 315.8,231.5 315.1,232.8 314.3,233.5Z" fill="#a0a0a0" stroke="#111" stroke-width="0.55" stroke-linejoin="round"/>
<path d="M314.3,216.6 313.3,216.7 312.6,216.4 311.7,215.8 311.2,214.8 311.1,213.8 311.4,212.8 312.1,212.0 313.1,211.6 314.1,211.5 315.1,212.0 315.8,212.8 316.1,213.5 316.1,214.5 315.8,215.2 315.2,216.0ZM313.6,232.1 312.8,232.0 312.3,231.6 311.8,230.8 311.6,229.8 311.7,228.5 312.0,227.5 312.6,226.8 313.3,226.5 314.1,226.8 314.6,227.5 315.0,229.2 314.7,231.0 314.2,231.8Z" fill="#c0c0c0" stroke="#111" stroke-width="0.55" stroke-linejoin="round"/>
<path d="M314.1,215.1 313.3,215.1 312.6,214.5 312.6,213.7 313.2,213.0 314.1,213.0 314.6,213.5 314.6,214.5ZM313.3,230.3 312.9,230.0 312.8,229.5 312.9,229.0 313.3,228.6 313.7,229.0 313.8,229.5 313.7,230.0Z" fill="#111" stroke="#111" stroke-width="0.55" stroke-linejoin="round"/>
<path d="M382.2,236.3 379.5,236.4 378.8,236.2 375.4,233.0 374.9,232.0 374.6,230.8 374.7,228.8 375.3,225.8 376.2,224.0 376.3,222.5 376.2,220.8 375.1,216.8 374.9,214.2 375.2,211.5 375.5,210.8 377.6,208.5 381.2,207.5 383.2,207.7 384.2,208.1 386.4,210.5 386.8,211.2 387.3,214.5 386.8,216.2 386.6,218.2 385.6,221.2 385.9,225.0 386.8,226.6 387.2,226.9 388.0,226.8 390.9,224.5 391.8,224.1 395.8,224.3 397.8,225.4 399.4,227.0 400.3,229.5 399.6,232.2 398.8,233.9 396.2,235.8 393.5,236.2 390.8,235.7 388.1,233.5 387.0,231.9 386.5,231.6 385.8,232.2 385.4,233.5 384.8,234.4 383.0,235.9Z" fill="#a8a8a8" stroke="#000" stroke-width="1.1" stroke-linejoin="round"/>
<path d="M381.2,235.0 379.8,234.9 378.2,234.2 376.9,232.8 376.1,231.0 375.8,229.5 375.8,228.2 377.2,224.5 377.5,221.5 377.3,219.5 376.3,215.8 376.1,214.2 376.3,213.0 376.7,212.0 378.2,210.0 379.5,209.4 382.0,209.1 383.2,209.4 384.6,210.8 385.6,212.5 386.1,214.5 385.4,217.5 384.5,219.8 384.2,221.0 384.5,225.2 385.2,227.5 385.1,230.5 384.4,232.5 383.8,233.4 382.2,234.7ZM395.0,234.8 393.0,235.0 391.2,234.5 389.7,233.2 388.6,231.5 388.4,230.0 388.9,228.2 390.2,226.7 391.8,225.6 393.5,225.6 396.5,226.3 397.6,227.2 398.6,229.0 398.7,230.8 398.1,232.5 396.8,234.0Z" fill="#c8c8c8" stroke="#111" stroke-width="0.55" stroke-linejoin="round"/>
<path d="M380.8,233.5 379.2,233.2 378.1,232.2 377.3,230.8 377.1,229.0 377.4,227.5 378.8,224.2 379.1,220.0 378.9,218.8 377.7,215.8 377.6,213.8 378.1,212.5 378.9,211.5 380.0,210.8 381.2,210.6 382.7,211.0 383.8,211.9 384.5,213.2 384.7,214.8 384.3,216.5 382.7,219.2 382.5,220.2 382.6,224.2 383.9,228.0 384.0,230.2 383.5,231.5 382.8,232.5 381.8,233.3ZM394.5,233.6 393.2,233.7 391.9,233.2 390.9,232.5 390.2,231.2 390.0,230.0 390.4,228.8 391.4,227.8 392.5,227.1 393.8,227.0 395.2,227.3 396.2,228.0 397.0,229.2 397.2,230.8 396.7,232.0 395.8,233.0Z" fill="#a0a0a0" stroke="#111" stroke-width="0.55" stroke-linejoin="round"/>
<path d="M381.2,217.3 380.5,217.2 379.8,216.6 379.2,215.8 379.0,214.8 379.2,213.8 379.6,213.0 380.2,212.5 381.0,212.3 381.8,212.4 382.5,212.9 383.0,213.6 383.2,214.5 383.1,215.5 382.7,216.2 382.0,217.0ZM381.5,231.8 380.5,232.0 379.5,231.6 378.8,230.8 378.4,229.8 378.4,228.5 378.8,227.5 379.5,226.6 380.5,226.1 381.0,226.2 381.8,226.6 382.4,227.5 382.8,228.5 382.8,229.5 382.6,230.5 382.1,231.2ZM394.2,231.8 393.0,231.9 392.4,231.5 392.0,231.0 391.8,230.5 391.9,229.8 392.8,228.8 393.5,228.6 394.2,228.7 394.8,229.0 395.2,229.7 395.4,230.2 395.2,231.0Z" fill="#c0c0c0" stroke="#111" stroke-width="0.55" stroke-linejoin="round"/>
<path d="M381.0,230.4 380.2,230.4 379.8,230.0 379.6,229.5 379.8,228.5 380.5,228.0 381.2,228.2 381.6,229.0 381.5,229.8Z" fill="#111" stroke="#111" stroke-width="0.55" stroke-linejoin="round"/>
<path d="M444.6,235.3 442.6,235.4 441.6,235.0 440.1,233.3 439.0,231.1 438.7,227.1 438.9,226.1 439.8,224.3 439.9,223.6 439.9,220.6 439.4,217.3 439.4,214.8 439.8,212.1 441.8,208.6 443.4,207.8 446.6,207.7 447.9,208.3 449.0,209.6 449.8,211.3 450.7,214.1 450.7,214.8 449.8,219.1 448.8,221.6 448.5,224.3 448.6,225.5 449.5,228.3 449.4,231.1 447.4,234.2 446.1,234.9ZM458.4,235.6 455.6,235.7 454.1,235.2 452.4,233.9 450.8,231.1 450.8,230.3 451.2,228.8 452.5,226.8 453.6,225.8 455.4,225.0 458.6,224.9 460.1,225.5 461.0,226.3 462.5,228.3 463.2,230.3 463.2,231.6 461.6,233.9 460.1,234.9Z" fill="#a8a8a8" stroke="#000" stroke-width="1.1" stroke-linejoin="round"/>
<path d="M445.1,234.1 443.4,234.2 442.6,233.9 441.9,233.4 440.4,231.6 440.0,230.6 439.8,229.3 440.1,226.8 441.2,224.3 441.4,221.6 441.3,219.6 440.5,215.8 440.7,213.1 441.5,211.3 442.6,209.7 443.6,209.1 445.1,208.9 446.6,209.3 447.8,210.6 448.7,212.3 449.2,214.8 449.0,216.6 448.1,219.9 447.4,223.6 447.4,224.8 448.3,228.3 448.2,230.8 447.8,231.8 446.9,233.0 446.1,233.6ZM458.4,234.3 456.4,234.5 454.9,234.1 453.6,233.2 452.7,231.6 452.5,230.1 452.9,228.6 453.9,227.3 455.4,226.4 457.4,226.1 459.1,226.4 460.6,227.6 461.6,229.1 461.8,230.8 461.3,232.3 460.1,233.6Z" fill="#c8c8c8" stroke="#111" stroke-width="0.55" stroke-linejoin="round"/>
<path d="M444.6,232.8 443.4,232.8 442.1,232.0 441.2,230.6 440.9,229.1 441.2,227.3 442.7,224.8 443.0,223.6 442.9,219.6 441.7,215.6 441.9,213.6 442.4,212.3 443.1,211.4 443.9,210.8 444.9,210.6 446.1,211.0 447.1,211.8 447.8,213.3 448.0,214.8 447.8,216.6 446.5,219.8 445.8,223.8 445.9,224.8 447.1,227.8 447.2,229.8 446.9,230.8 446.3,231.8 445.6,232.4ZM458.1,233.1 456.9,233.3 455.9,233.1 454.9,232.5 454.1,231.6 453.8,230.3 454.0,229.3 454.6,228.3 455.4,227.8 456.6,227.4 458.1,227.5 459.2,228.1 460.1,229.1 460.4,230.3 460.1,231.6 459.4,232.5Z" fill="#a0a0a0" stroke="#111" stroke-width="0.55" stroke-linejoin="round"/>
<path d="M445.4,217.6 444.6,217.7 444.0,217.3 443.4,216.4 443.1,215.3 443.1,214.3 443.5,213.3 444.1,212.6 444.9,212.4 445.6,212.6 446.1,213.0 446.6,213.8 446.7,214.6 446.4,216.3 446.0,217.1ZM444.9,231.3 443.9,231.5 443.1,231.2 442.5,230.6 442.1,229.6 442.1,228.6 442.5,227.6 443.1,226.8 443.9,226.4 444.6,226.4 445.2,226.8 445.8,227.6 446.1,228.5 446.1,229.3 445.9,230.3ZM457.9,231.6 456.6,231.7 455.7,231.1 455.5,230.1 456.1,229.1 457.4,228.9 458.0,229.1 458.5,229.6 458.7,230.1 458.7,230.8Z" fill="#c0c0c0" stroke="#111" stroke-width="0.55" stroke-linejoin="round"/>
<path d="M444.4,230.1 443.6,230.0 443.2,229.3 443.4,228.4 444.1,227.9 444.6,228.1 445.0,228.8 444.9,229.6Z" fill="#111" stroke="#111" stroke-width="0.55" stroke-linejoin="round"/>
<ellipse cx="322.4" cy="214.8" rx="1.7" ry="1.4" fill="#111"/>
<ellipse cx="321.0" cy="231.3" rx="1.2" ry="1.1" fill="#111"/>
<rect x="319.5" y="224.5" width="16.00" height="14.00" fill="none" stroke="#333" stroke-width="1.0"/>
<rect x="386.5" y="223.5" width="20.00" height="14.00" fill="none" stroke="#333" stroke-width="1.0"/>
<rect x="450.5" y="224.5" width="18.00" height="14.00" fill="none" stroke="#333" stroke-width="1.0"/>
<text transform="translate(331.00,221.24) scale(1.0,1.15)" font-size="7.5" text-anchor="middle" fill="#141414" stroke="#141414" stroke-width="0.08">1.2</text>
<text transform="translate(398.80,221.24) scale(1.0,1.15)" font-size="7.5" text-anchor="middle" fill="#141414" stroke="#141414" stroke-width="0.08">15.1</text>
<text transform="translate(461.60,221.24) scale(1.0,1.15)" font-size="7.5" text-anchor="middle" fill="#141414" stroke="#141414" stroke-width="0.08">12.1</text>
<path d="M314.2,307.7 311.4,307.8 309.9,307.1 308.6,305.2 307.6,302.9 307.4,301.7 307.5,298.9 308.7,295.9 308.9,294.4 308.7,288.5 308.3,285.9 308.6,283.4 308.9,282.7 310.6,280.2 312.7,279.6 314.7,280.2 315.7,280.9 317.0,283.7 317.7,287.7 316.9,292.9 317.3,296.4 318.3,300.4 318.3,301.7 316.9,305.8 316.2,306.5Z" fill="#a8a8a8" stroke="#000" stroke-width="1.1" stroke-linejoin="round"/>
<path d="M313.2,306.5 311.4,306.2 309.9,305.1 308.9,302.9 308.6,300.9 308.8,298.7 309.7,296.2 309.9,295.2 310.0,290.9 309.3,286.2 309.6,284.2 310.0,282.9 310.9,281.7 311.9,281.0 312.9,280.8 314.2,281.1 315.2,281.9 315.9,283.2 316.5,284.9 316.7,287.4 316.0,290.2 315.8,293.9 316.0,295.9 316.9,298.9 317.1,300.7 316.8,302.7 315.9,304.7 314.7,305.9Z" fill="#c8c8c8" stroke="#111" stroke-width="0.55" stroke-linejoin="round"/>
<path d="M313.2,305.0 311.9,304.9 310.7,303.9 309.9,302.4 309.6,300.9 309.9,298.9 311.1,296.2 311.3,295.2 311.4,291.2 310.4,287.4 310.4,285.2 310.8,283.9 311.4,282.9 312.2,282.4 312.9,282.2 313.9,282.5 314.7,283.2 315.3,284.2 315.6,285.4 315.6,287.4 314.5,291.2 314.4,295.2 314.7,296.4 315.8,299.2 316.0,300.7 315.8,302.2 315.2,303.5 314.2,304.6Z" fill="#a0a0a0" stroke="#111" stroke-width="0.55" stroke-linejoin="round"/>
<path d="M313.2,289.2 312.4,289.1 311.9,288.5 311.5,287.4 311.3,286.4 311.7,284.7 312.2,284.1 312.9,283.8 313.6,283.9 314.1,284.4 314.5,285.2 314.7,286.2 314.6,287.2 314.2,288.2 313.7,288.9ZM312.9,303.5 312.2,303.4 311.4,302.8 311.0,301.9 310.8,300.9 310.8,299.9 311.2,298.9 311.9,298.1 312.7,297.7 313.4,297.9 314.2,298.6 314.7,299.7 314.8,300.7 314.7,301.7 314.2,302.7 313.7,303.2Z" fill="#c0c0c0" stroke="#111" stroke-width="0.55" stroke-linejoin="round"/>
<path d="M313.2,287.1 312.7,287.0 312.5,286.4 312.6,285.9 312.9,285.6 313.3,285.7 313.5,286.2ZM312.9,302.0 312.2,301.7 311.9,300.9 312.1,299.9 312.7,299.5 313.4,299.9 313.7,300.6 313.5,301.4Z" fill="#111" stroke="#111" stroke-width="0.55" stroke-linejoin="round"/>
<path d="M381.6,306.8 378.9,306.7 376.5,305.3 375.5,304.1 374.2,301.3 374.1,300.6 374.4,297.1 377.1,292.7 377.1,291.8 376.7,289.6 376.8,287.3 377.1,285.8 377.7,284.6 378.9,282.9 379.4,282.4 380.1,282.1 380.9,282.2 382.4,283.0 383.2,284.3 384.0,286.8 384.4,293.6 384.8,294.8 385.6,296.0 386.1,296.3 386.6,296.0 388.1,293.5 389.1,292.7 391.1,291.9 392.9,291.7 393.9,291.9 395.4,292.6 396.8,294.3 397.4,295.8 397.5,297.6 398.0,299.3 397.5,301.1 396.5,302.6 395.4,303.8 393.4,305.2 392.1,305.3 389.6,304.7 388.4,303.8 387.1,302.4 386.6,302.2 385.9,302.7 383.6,306.0 382.9,306.5Z" fill="#a8a8a8" stroke="#000" stroke-width="1.1" stroke-linejoin="round"/>
<path d="M381.9,305.3 379.6,305.5 377.9,304.7 376.3,303.1 375.7,301.8 375.4,300.6 375.7,297.8 376.5,296.3 377.8,294.6 378.1,293.8 377.7,289.6 378.1,286.6 379.0,284.8 379.6,284.3 380.4,284.1 381.1,284.2 381.9,284.7 382.8,286.3 383.3,289.1 382.9,294.3 383.3,295.3 384.8,297.6 385.4,299.8 385.2,301.1 384.2,303.1 382.9,304.7ZM392.1,303.6 390.4,303.3 388.6,301.8 387.8,300.1 387.8,297.8 388.3,296.1 389.3,294.8 391.1,293.7 392.4,293.4 393.4,293.4 394.6,293.9 395.7,295.1 396.3,296.8 396.5,299.3 396.0,301.1 395.1,302.3 393.9,303.2Z" fill="#c8c8c8" stroke="#111" stroke-width="0.55" stroke-linejoin="round"/>
<path d="M380.6,293.6 380.1,293.4 379.4,292.3 378.9,291.1 378.8,289.6 378.9,288.1 379.4,286.9 379.9,286.3 380.6,286.1 381.4,286.5 381.9,287.3 382.2,289.6 381.9,291.9 381.4,292.8ZM380.9,304.1 379.4,304.0 378.1,303.2 377.0,301.8 376.7,300.3 376.8,298.8 377.5,297.3 378.9,295.9 380.4,294.9 381.4,295.5 383.1,297.3 383.7,298.6 383.9,299.8 383.7,301.3 383.1,302.6 382.1,303.5ZM392.4,302.1 391.1,301.9 390.1,301.2 389.4,300.1 389.1,298.6 389.4,297.1 390.0,296.1 391.1,295.2 392.4,294.9 393.4,295.1 394.4,295.9 395.0,297.1 395.3,298.6 395.0,299.8 394.4,301.0 393.4,301.8Z" fill="#a0a0a0" stroke="#111" stroke-width="0.55" stroke-linejoin="round"/>
<path d="M392.9,300.1 392.4,300.3 391.6,300.2 391.1,299.8 390.7,299.1 390.9,297.6 391.3,297.1 391.9,296.8 392.9,296.9 393.6,297.8 393.7,299.1 393.4,299.7ZM380.6,302.6 379.6,302.5 378.9,302.0 378.3,301.3 378.0,300.3 378.1,299.3 378.5,298.3 379.3,297.6 380.1,297.2 381.1,297.4 381.9,298.0 382.4,298.8 382.6,299.8 382.5,300.8 382.1,301.6 381.4,302.3Z" fill="#c0c0c0" stroke="#111" stroke-width="0.55" stroke-linejoin="round"/>
<path d="M380.6,301.1 379.9,301.0 379.3,300.3 379.5,299.3 380.1,298.8 380.9,299.0 381.3,299.8 381.2,300.6Z" fill="#111" stroke="#111" stroke-width="0.55" stroke-linejoin="round"/>
<path d="M445.4,307.3 444.1,307.4 442.6,306.9 441.9,306.5 440.6,305.3 439.2,301.8 439.0,299.1 439.2,297.8 440.1,295.1 440.0,289.8 440.4,287.6 442.0,284.3 443.4,282.6 444.4,282.2 446.6,282.8 448.8,284.6 449.4,285.3 450.2,289.1 450.4,291.8 450.1,294.1 450.4,295.0 450.9,295.8 451.1,296.0 451.6,295.8 454.4,293.3 456.4,292.1 457.4,291.9 458.9,292.1 460.4,292.6 461.0,293.3 463.2,296.3 463.7,298.6 463.6,299.8 463.3,300.8 462.0,302.8 460.4,304.4 458.4,304.9 455.4,304.9 454.4,304.3 451.9,301.8 451.4,301.5 450.9,301.8 450.1,303.1 447.6,306.0 446.4,306.9Z" fill="#a8a8a8" stroke="#000" stroke-width="1.1" stroke-linejoin="round"/>
<path d="M445.9,305.6 443.9,305.7 442.9,305.3 442.1,304.7 441.4,303.8 440.4,302.1 440.1,299.8 440.3,298.3 441.3,294.8 441.0,290.3 441.4,288.1 442.0,286.6 442.9,285.4 444.1,284.4 445.1,284.2 446.4,284.4 447.6,285.3 448.2,286.1 448.8,287.6 449.2,290.3 448.9,295.4 449.7,299.6 449.4,301.6 448.8,303.1 447.4,304.8ZM458.1,303.6 456.1,303.4 454.9,302.7 453.5,301.1 453.1,299.3 453.2,297.1 454.0,295.3 455.1,294.4 457.9,293.6 459.6,294.1 460.8,295.1 461.9,296.8 462.3,298.6 462.1,299.8 461.0,302.1 459.6,303.2Z" fill="#c8c8c8" stroke="#111" stroke-width="0.55" stroke-linejoin="round"/>
<path d="M445.6,304.1 444.1,304.1 442.7,303.3 441.7,301.8 441.3,300.1 441.5,298.3 442.8,295.1 442.2,291.1 442.4,288.8 442.9,287.7 443.5,286.8 444.4,286.2 445.1,286.0 446.1,286.2 447.2,287.1 447.9,288.6 448.2,290.3 448.0,292.1 447.3,295.3 448.2,298.8 448.2,300.8 448.0,301.8 447.4,302.9 446.6,303.6ZM458.6,301.9 457.4,302.0 456.1,301.6 455.2,300.8 454.5,299.6 454.5,298.1 454.9,296.8 455.6,295.9 456.9,295.3 458.1,295.2 459.1,295.6 460.1,296.6 460.7,297.8 460.8,299.1 460.4,300.3 459.6,301.3Z" fill="#a0a0a0" stroke="#111" stroke-width="0.55" stroke-linejoin="round"/>
<path d="M445.6,293.6 444.9,293.6 444.4,293.3 443.8,292.3 443.5,291.1 443.5,289.8 443.9,288.8 444.4,288.2 445.1,287.9 445.9,288.1 446.4,288.5 446.8,289.3 447.0,290.3 446.6,292.3ZM445.4,302.6 444.4,302.6 443.6,302.2 442.9,301.3 442.6,300.3 442.7,299.1 443.1,298.0 443.9,297.1 444.9,296.5 445.6,296.8 446.3,297.6 446.8,298.6 447.0,299.6 447.0,300.6 446.6,301.6 446.1,302.2ZM457.6,300.1 456.6,299.6 456.3,298.6 456.7,297.6 457.6,297.2 458.5,297.6 458.9,298.6 458.6,299.6Z" fill="#c0c0c0" stroke="#111" stroke-width="0.55" stroke-linejoin="round"/>
<path d="M445.1,301.1 444.4,301.0 443.8,300.3 443.9,299.3 444.6,298.6 445.4,298.8 445.8,299.6 445.7,300.6Z" fill="#111" stroke="#111" stroke-width="0.55" stroke-linejoin="round"/>
<rect x="319.5" y="292.5" width="16.00" height="14.00" fill="none" stroke="#333" stroke-width="1.0"/>
<rect x="386.5" y="291.5" width="17.00" height="14.00" fill="none" stroke="#333" stroke-width="1.0"/>
<rect x="451.5" y="291.5" width="16.00" height="14.00" fill="none" stroke="#333" stroke-width="1.0"/>
<text transform="translate(327.70,291.14) scale(1.0,1.15)" font-size="7.5" text-anchor="middle" fill="#141414" stroke="#141414" stroke-width="0.08">1.4</text>
<text transform="translate(395.80,288.84) scale(1.0,1.15)" font-size="7.5" text-anchor="middle" fill="#141414" stroke="#141414" stroke-width="0.08">22.6</text>
<text transform="translate(460.10,288.84) scale(1.0,1.15)" font-size="7.5" text-anchor="middle" fill="#141414" stroke="#141414" stroke-width="0.08">19.2</text>
<rect x="304.6" y="222.2" width="41.80" height="17.00" fill="none" stroke="#2a2c9c" stroke-width="1.4" stroke-dasharray="5.4,1.7"/>
<rect x="368.5" y="222.2" width="41.10" height="16.80" fill="none" stroke="#2a2c9c" stroke-width="1.4" stroke-dasharray="5.4,1.7"/>
<rect x="434.1" y="222.9" width="40.50" height="17.10" fill="none" stroke="#2a2c9c" stroke-width="1.4" stroke-dasharray="5.4,1.7"/>
<line x1="315.4" y1="241.0" x2="315.4" y2="273.7" stroke="#3a4cff" stroke-width="1.1" stroke-dasharray="3,4"/>
<path d="M313.30,274.20 L315.40,277.20 L317.50,274.20 Z" fill="#3a4cff"/>
<line x1="381.5" y1="240.8" x2="381.5" y2="273.7" stroke="#3a4cff" stroke-width="1.1" stroke-dasharray="3,4"/>
<path d="M379.40,274.20 L381.50,277.20 L383.60,274.20 Z" fill="#3a4cff"/>
<line x1="445.0" y1="241.8" x2="445.0" y2="275.0" stroke="#3a4cff" stroke-width="1.1" stroke-dasharray="3,4"/>
<path d="M442.90,275.50 L445.00,278.50 L447.10,275.50 Z" fill="#3a4cff"/>
<rect x="0.5" y="0.5" width="519" height="519" fill="none" stroke="#000" stroke-width="1"/>
</svg>
</body></html>
